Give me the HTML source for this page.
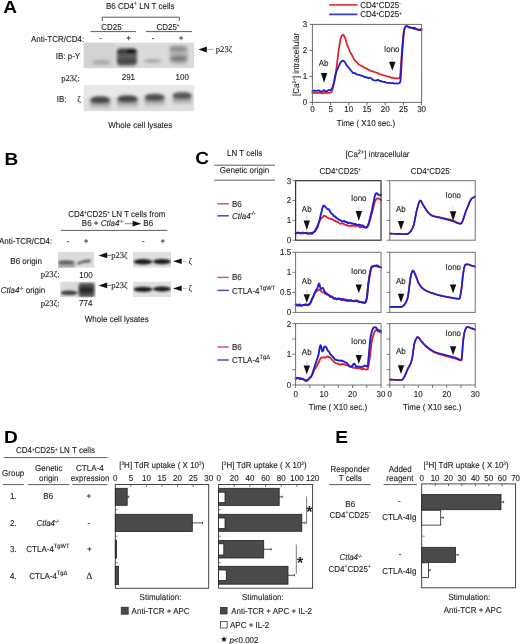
<!DOCTYPE html><html><head><meta charset="utf-8"><style>html,body{margin:0;padding:0;background:#fff;} svg{will-change:transform;}svg{display:block;font-family:"Liberation Sans",sans-serif;} text{text-rendering:geometricPrecision;stroke:#1e1e1e;stroke-width:0.12px;paint-order:stroke;}</style></head><body>
<svg width="520" height="644" viewBox="0 0 520 644">
<defs><filter id="b1" x="-50%" y="-50%" width="200%" height="200%"><feGaussianBlur stdDeviation="1.2"/></filter><filter id="b2" x="-50%" y="-50%" width="200%" height="200%"><feGaussianBlur stdDeviation="2"/></filter><filter id="b2s" x="-50%" y="-50%" width="200%" height="200%"><feGaussianBlur stdDeviation="1.4"/></filter><linearGradient id="smear" x1="0" y1="0" x2="0" y2="1"><stop offset="0" stop-color="#777"/><stop offset="1" stop-color="#d8d8d8"/></linearGradient><filter id="b3" x="-50%" y="-50%" width="200%" height="200%"><feGaussianBlur stdDeviation="0.8"/></filter><clipPath id="cA1"><rect x="83.5" y="42.5" width="110.7" height="25.7"/></clipPath><clipPath id="cA2"><rect x="83.5" y="84.8" width="110.7" height="26.5"/></clipPath><clipPath id="cB1"><rect x="58" y="251.8" width="36.4" height="16"/></clipPath><clipPath id="cB2"><rect x="60.2" y="281.5" width="35.6" height="16"/></clipPath><clipPath id="cB3"><rect x="133" y="251.8" width="38" height="16"/></clipPath><clipPath id="cB4"><rect x="133" y="281.5" width="38" height="15.8"/></clipPath></defs>
<rect width="520" height="644" fill="#fff"/>
<text transform="translate(3.3,12.7) scale(1.09,1)" font-size="17.5" font-weight="bold" fill="#000" style="stroke:none">A</text>
<text transform="translate(106.00,8.60) scale(0.93,1)" font-size="8.6" fill="#1e1e1e" >B6 CD4<tspan font-size="5.5" dy="-3.4">+</tspan><tspan font-size="8.6" dy="3.4"> LN T cells</tspan></text>
<path d="M102.3,21 V17.2 H179.4 V21" fill="none" stroke="#333" stroke-width="0.8"/>
<text transform="translate(101.30,29.80) scale(0.93,1)" font-size="8.6" fill="#1e1e1e" >CD25<tspan font-size="4.6" dy="-2.7">-</tspan></text>
<text transform="translate(156.40,29.80) scale(0.93,1)" font-size="8.6" fill="#1e1e1e" >CD25<tspan font-size="4.6" dy="-2.7">+</tspan></text>
<line x1="90.60" y1="31.60" x2="135.80" y2="31.60" stroke="#333" stroke-width="0.8"/>
<line x1="146.00" y1="31.60" x2="192.00" y2="31.60" stroke="#333" stroke-width="0.8"/>
<text transform="translate(84.20,41.60) scale(0.93,1)" font-size="8.6" text-anchor="end" fill="#1e1e1e" >Anti-TCR/CD4:</text>
<text transform="translate(100.50,41.40) scale(0.93,1)" font-size="8.6" text-anchor="middle" fill="#1e1e1e" >-</text>
<text transform="translate(128.60,41.40) scale(0.93,1)" font-size="8.6" text-anchor="middle" fill="#1e1e1e" >+</text>
<text transform="translate(153.00,41.40) scale(0.93,1)" font-size="8.6" text-anchor="middle" fill="#1e1e1e" >-</text>
<text transform="translate(181.20,41.40) scale(0.93,1)" font-size="8.6" text-anchor="middle" fill="#1e1e1e" >+</text>
<text transform="translate(80.20,58.80) scale(0.93,1)" font-size="8.6" text-anchor="end" fill="#1e1e1e" >IB: p-Y</text>
<text x="80.00" y="80.80" font-size="8.6" font-family="Liberation Serif" text-anchor="end" fill="#1e1e1e" >p23&#950;:</text>
<text transform="translate(128.40,79.90) scale(0.93,1)" font-size="8.6" text-anchor="middle" fill="#1e1e1e" >291</text>
<text transform="translate(182.20,80.00) scale(0.93,1)" font-size="8.6" text-anchor="middle" fill="#1e1e1e" >100</text>
<text transform="translate(56.80,101.60) scale(0.93,1)" font-size="8.6" fill="#1e1e1e" >IB:</text>
<text x="77.30" y="101.60" font-size="8.6" font-family="Liberation Serif" fill="#1e1e1e" >&#950;</text>
<g clip-path="url(#cA1)">
<rect x="83.50" y="42.50" width="110.70" height="25.70" fill="#dadada" stroke="none" stroke-width="0.8" />
<g filter="url(#b2s)">
<rect x="83.5" y="42.5" width="30" height="25.7" fill="#d2d2d2"/>
<ellipse cx="101.5" cy="62.4" rx="9.5" ry="2.4" fill="#a6a6a6"/>
<rect x="116.8" y="48.2" width="20.2" height="17.5" rx="4" fill="#5e5e5e"/>
<ellipse cx="121.3" cy="51.6" rx="4.6" ry="2.3" fill="#3a3a3a"/>
<ellipse cx="130.8" cy="51.3" rx="6.0" ry="2.3" fill="#000"/>
<ellipse cx="126.8" cy="61.0" rx="10.2" ry="3.0" fill="#4a4a4a"/>
<ellipse cx="152.7" cy="61.0" rx="9" ry="2.2" fill="#ababab"/>
<rect x="169.5" y="45.5" width="18.5" height="18.5" rx="4" fill="#b0b0b0"/>
<ellipse cx="177.8" cy="48.9" rx="8.5" ry="2.6" fill="#8e8e8e"/>
<ellipse cx="178.6" cy="58.6" rx="8.5" ry="2.8" fill="#7a7a7a"/>
</g></g>
<g clip-path="url(#cA2)">
<rect x="83.50" y="84.80" width="110.70" height="26.50" fill="#e8e8e8" stroke="none" stroke-width="0.8" />
<g filter="url(#b2s)">
<rect x="83.5" y="97" width="110.7" height="15" fill="#dedede"/>
<rect x="90.1" y="99.9" width="20.2" height="9.5" rx="3" fill="url(#smear)"/>
<ellipse cx="100.2" cy="99.9" rx="10.6" ry="3.6" fill="#444"/>
<rect x="117.2" y="98.9" width="20.6" height="9.5" rx="3" fill="url(#smear)"/>
<ellipse cx="127.5" cy="98.9" rx="10.8" ry="3.6" fill="#464646"/>
<rect x="144.6" y="97.4" width="20.0" height="9.5" rx="3" fill="url(#smear)"/>
<ellipse cx="154.6" cy="97.4" rx="10.5" ry="3.6" fill="#505050"/>
<rect x="172.7" y="95.6" width="19.0" height="9.5" rx="3" fill="url(#smear)"/>
<ellipse cx="182.2" cy="95.6" rx="10.0" ry="3.6" fill="#585858"/>
</g></g>
<path d="M198.50,49.40 L206.80,46.40 L206.80,52.40 Z" fill="#111"/>
<line x1="206.80" y1="49.40" x2="213.60" y2="49.40" stroke="#666" stroke-width="0.6"/>
<text x="215.80" y="52.20" font-size="8.6" font-family="Liberation Serif" fill="#1e1e1e" >p23&#950;</text>
<text transform="translate(108.30,128.00) scale(0.93,1)" font-size="8.6" fill="#1e1e1e" >Whole cell lysates</text>
<line x1="329.20" y1="4.90" x2="357.50" y2="4.90" stroke="#e2404e" stroke-width="1.8"/>
<line x1="329.20" y1="14.40" x2="357.50" y2="14.40" stroke="#3c3cc6" stroke-width="1.8"/>
<text transform="translate(360.30,7.80) scale(0.93,1)" font-size="8.6" fill="#1e1e1e" >CD4<tspan font-size="4.6" dy="-2.7">+</tspan><tspan font-size="8.6" dy="2.7">CD25</tspan><tspan font-size="4.6" dy="-2.7">-</tspan></text>
<text transform="translate(360.30,17.40) scale(0.93,1)" font-size="8.6" fill="#1e1e1e" >CD4<tspan font-size="4.6" dy="-2.7">+</tspan><tspan font-size="8.6" dy="2.7">CD25</tspan><tspan font-size="4.6" dy="-2.7">+</tspan></text>
<path d="M312.40,92.96 L313.13,92.93 L313.86,92.90 L314.58,92.88 L315.31,92.86 L316.04,92.84 L316.77,92.79 L317.50,92.78 L318.22,92.83 L318.95,92.89 L319.68,92.84 L320.41,92.79 L321.14,92.96 L321.86,93.21 L322.59,93.27 L323.32,93.15 L324.05,93.03 L324.78,92.90 L325.50,92.76 L326.23,92.84 L326.96,92.93 L327.69,92.89 L328.42,92.82 L329.14,92.90 L329.87,92.97 L330.60,92.69 L331.33,91.97 L332.06,90.88 L332.78,88.56 L333.51,85.30 L334.24,81.70 L334.97,77.83 L335.70,73.39 L336.42,68.56 L337.15,62.84 L337.88,56.50 L338.61,50.60 L339.34,45.78 L340.06,41.39 L340.79,38.04 L341.52,36.33 L342.25,35.15 L342.98,34.71 L343.70,35.27 L344.43,36.53 L345.16,38.03 L345.89,40.40 L346.62,43.10 L347.34,45.28 L348.07,46.98 L348.80,48.73 L349.53,50.52 L350.26,52.10 L350.98,53.42 L351.71,54.71 L352.44,56.23 L353.17,57.68 L353.90,58.98 L354.62,60.14 L355.35,61.05 L356.08,61.68 L356.81,62.26 L357.54,63.11 L358.26,63.91 L358.99,64.50 L359.72,65.04 L360.45,65.40 L361.18,65.68 L361.90,66.05 L362.63,66.52 L363.36,67.00 L364.09,67.56 L364.82,68.10 L365.54,68.28 L366.27,68.45 L367.00,68.84 L367.73,69.30 L368.46,69.67 L369.18,69.96 L369.91,70.28 L370.64,70.71 L371.37,71.14 L372.10,71.23 L372.82,71.30 L373.55,71.58 L374.28,71.91 L375.01,72.17 L375.74,72.35 L376.46,72.54 L377.19,72.80 L377.92,73.06 L378.65,73.46 L379.38,73.85 L380.10,74.10 L380.83,74.30 L381.56,74.53 L382.29,74.80 L383.02,75.05 L383.74,75.27 L384.47,75.49 L385.20,75.74 L385.93,76.00 L386.66,76.19 L387.38,76.36 L388.11,76.51 L388.84,76.66 L389.57,76.86 L390.30,77.24 L391.02,77.62 L391.75,77.63 L392.48,77.63 L393.21,77.82 L393.94,78.07 L394.66,78.25 L395.39,78.38 L396.12,78.44 L396.85,78.37 L397.58,78.27 L398.30,78.37 L399.03,78.25 L399.76,77.75 L400.49,72.15 L401.22,60.91 L401.94,50.45 L402.67,42.03 L403.40,34.23 L404.13,29.47 L404.86,27.52 L405.58,26.38 L406.31,26.07 L407.04,26.02 L407.77,26.36 L408.50,27.04 L409.22,27.62 L409.95,27.81 L410.68,27.88 L411.41,28.05 L412.14,28.21 L412.86,28.54 L413.59,28.92 L414.32,29.07 L415.05,28.99 L415.78,28.99 L416.50,29.23 L417.23,29.47 L417.96,29.52 L418.69,29.58 L419.42,29.80 L420.14,30.09 L420.87,30.29 L421.60,30.41" fill="none" stroke="#e0242e" stroke-width="1.8" stroke-linejoin="round" stroke-linecap="round"/>
<path d="M312.40,91.18 L313.13,90.93 L313.86,90.68 L314.58,90.73 L315.31,90.87 L316.04,90.84 L316.77,90.65 L317.50,90.51 L318.22,90.49 L318.95,90.47 L319.68,90.92 L320.41,91.38 L321.14,91.52 L321.86,91.56 L322.59,91.25 L323.32,90.59 L324.05,90.20 L324.78,90.67 L325.50,91.14 L326.23,91.16 L326.96,91.18 L327.69,90.72 L328.42,90.11 L329.14,90.01 L329.87,90.31 L330.60,90.21 L331.33,89.39 L332.06,88.26 L332.78,86.51 L333.51,83.98 L334.24,81.02 L334.97,77.56 L335.70,74.01 L336.42,71.54 L337.15,69.90 L337.88,68.04 L338.61,66.37 L339.34,64.92 L340.06,63.35 L340.79,62.17 L341.52,61.35 L342.25,60.76 L342.98,60.56 L343.70,60.93 L344.43,61.73 L345.16,62.57 L345.89,63.90 L346.62,65.41 L347.34,66.22 L348.07,66.79 L348.80,67.65 L349.53,68.72 L350.26,69.63 L350.98,70.55 L351.71,71.44 L352.44,72.28 L353.17,73.08 L353.90,73.16 L354.62,72.98 L355.35,73.24 L356.08,73.95 L356.81,74.49 L357.54,74.61 L358.26,74.71 L358.99,74.86 L359.72,74.99 L360.45,75.31 L361.18,75.68 L361.90,75.88 L362.63,75.93 L363.36,76.12 L364.09,76.75 L364.82,77.37 L365.54,77.23 L366.27,77.10 L367.00,77.43 L367.73,77.92 L368.46,78.06 L369.18,77.86 L369.91,77.77 L370.64,78.01 L371.37,78.24 L372.10,79.06 L372.82,79.88 L373.55,80.20 L374.28,80.34 L375.01,80.47 L375.74,80.58 L376.46,80.55 L377.19,80.11 L377.92,79.67 L378.65,80.26 L379.38,80.85 L380.10,81.00 L380.83,81.00 L381.56,81.21 L382.29,81.62 L383.02,81.92 L383.74,81.90 L384.47,81.89 L385.20,82.15 L385.93,82.41 L386.66,82.62 L387.38,82.81 L388.11,82.90 L388.84,82.87 L389.57,82.89 L390.30,83.05 L391.02,83.20 L391.75,83.08 L392.48,82.96 L393.21,83.15 L393.94,83.44 L394.66,83.53 L395.39,83.41 L396.12,83.34 L396.85,83.45 L397.58,83.54 L398.30,83.44 L399.03,83.20 L399.76,82.99 L400.49,80.92 L401.22,69.77 L401.94,56.06 L402.67,46.50 L403.40,37.38 L404.13,30.51 L404.86,28.02 L405.58,26.67 L406.31,26.19 L407.04,26.26 L407.77,26.48 L408.50,26.85 L409.22,27.13 L409.95,27.13 L410.68,27.13 L411.41,27.66 L412.14,28.20 L412.86,28.07 L413.59,27.73 L414.32,27.75 L415.05,28.13 L415.78,28.53 L416.50,28.95 L417.23,29.38 L417.96,29.75 L418.69,30.13 L419.42,29.88 L420.14,29.43 L420.87,29.24 L421.60,29.31" fill="none" stroke="#1f1fd0" stroke-width="1.8" stroke-linejoin="round" stroke-linecap="round"/>
<rect x="312.40" y="24.40" width="109.20" height="78.00" fill="none" stroke="#6a6a6a" stroke-width="1.0" />
<line x1="309.60" y1="102.40" x2="312.40" y2="102.40" stroke="#555" stroke-width="0.9"/>
<text transform="translate(307.20,105.30) scale(0.93,1)" font-size="8.6" text-anchor="end" fill="#1e1e1e" >0</text>
<line x1="309.60" y1="76.40" x2="312.40" y2="76.40" stroke="#555" stroke-width="0.9"/>
<text transform="translate(307.20,79.30) scale(0.93,1)" font-size="8.6" text-anchor="end" fill="#1e1e1e" >1</text>
<line x1="309.60" y1="50.40" x2="312.40" y2="50.40" stroke="#555" stroke-width="0.9"/>
<text transform="translate(307.20,53.30) scale(0.93,1)" font-size="8.6" text-anchor="end" fill="#1e1e1e" >2</text>
<line x1="309.60" y1="24.40" x2="312.40" y2="24.40" stroke="#555" stroke-width="0.9"/>
<text transform="translate(307.20,27.30) scale(0.93,1)" font-size="8.6" text-anchor="end" fill="#1e1e1e" >3</text>
<line x1="312.40" y1="102.40" x2="312.40" y2="105.20" stroke="#555" stroke-width="0.9"/>
<text transform="translate(312.40,112.20) scale(0.93,1)" font-size="8.6" text-anchor="middle" fill="#1e1e1e" >0</text>
<line x1="330.60" y1="102.40" x2="330.60" y2="105.20" stroke="#555" stroke-width="0.9"/>
<text transform="translate(330.60,112.20) scale(0.93,1)" font-size="8.6" text-anchor="middle" fill="#1e1e1e" >5</text>
<line x1="348.80" y1="102.40" x2="348.80" y2="105.20" stroke="#555" stroke-width="0.9"/>
<text transform="translate(348.80,112.20) scale(0.93,1)" font-size="8.6" text-anchor="middle" fill="#1e1e1e" >10</text>
<line x1="367.00" y1="102.40" x2="367.00" y2="105.20" stroke="#555" stroke-width="0.9"/>
<text transform="translate(367.00,112.20) scale(0.93,1)" font-size="8.6" text-anchor="middle" fill="#1e1e1e" >15</text>
<line x1="385.20" y1="102.40" x2="385.20" y2="105.20" stroke="#555" stroke-width="0.9"/>
<text transform="translate(385.20,112.20) scale(0.93,1)" font-size="8.6" text-anchor="middle" fill="#1e1e1e" >20</text>
<line x1="403.40" y1="102.40" x2="403.40" y2="105.20" stroke="#555" stroke-width="0.9"/>
<text transform="translate(403.40,112.20) scale(0.93,1)" font-size="8.6" text-anchor="middle" fill="#1e1e1e" >25</text>
<line x1="421.60" y1="102.40" x2="421.60" y2="105.20" stroke="#555" stroke-width="0.9"/>
<text transform="translate(421.60,112.20) scale(0.93,1)" font-size="8.6" text-anchor="middle" fill="#1e1e1e" >30</text>
<text transform="translate(336.80,126.20) scale(0.93,1)" font-size="8.6" fill="#1e1e1e" >Time ( X10 sec.)</text>
<text transform="translate(299.3,96) rotate(-90) scale(0.93,1)" font-size="8.6" fill="#1e1e1e">[Ca<tspan font-size="5" dy="-3.2">2+</tspan><tspan font-size="8.6" dy="3.2">] intracellular</tspan></text>
<text transform="translate(318.70,66.00) scale(0.93,1)" font-size="8.6" fill="#1e1e1e" >Ab</text>
<line x1="324.10" y1="68.50" x2="324.10" y2="73.00" stroke="#aaa" stroke-width="0.5"/>
<path d="M320.90,73.00 L327.30,73.00 L324.10,82.80 Z" fill="#111"/>
<text transform="translate(384.00,52.00) scale(0.93,1)" font-size="8.6" fill="#1e1e1e" >Iono</text>
<line x1="392.30" y1="57.30" x2="392.30" y2="61.80" stroke="#aaa" stroke-width="0.5"/>
<path d="M389.10,61.80 L395.50,61.80 L392.30,70.80 Z" fill="#111"/>
<text transform="translate(4.6,164.6) scale(1.09,1)" font-size="17.5" font-weight="bold" fill="#000" style="stroke:none">B</text>
<text transform="translate(68.20,217.10) scale(0.93,1)" font-size="8.6" fill="#1e1e1e" >CD4<tspan font-size="4.6" dy="-2.7">+</tspan><tspan font-size="8.6" dy="2.7">CD25</tspan><tspan font-size="4.6" dy="-2.7">+</tspan><tspan font-size="8.6" dy="2.7"> LN T cells from</tspan></text>
<text transform="translate(81.80,226.00) scale(0.93,1)" font-size="8.6" fill="#1e1e1e" >B6 + <tspan font-style="italic">Ctla4</tspan><tspan font-size="4.6" dy="-2.7">-/-</tspan></text>
<line x1="124.90" y1="223.70" x2="133.00" y2="223.70" stroke="#666" stroke-width="0.8"/>
<path d="M141.30,223.70 L132.60,220.80 L132.60,226.60 Z" fill="#111"/>
<text transform="translate(143.30,226.40) scale(0.93,1)" font-size="8.6" fill="#1e1e1e" >B6</text>
<line x1="60.80" y1="230.40" x2="167.20" y2="230.40" stroke="#333" stroke-width="0.8"/>
<text transform="translate(52.30,243.50) scale(0.93,1)" font-size="8.6" text-anchor="end" fill="#1e1e1e" >Anti-TCR/CD4:</text>
<text transform="translate(68.00,244.30) scale(0.93,1)" font-size="8.6" text-anchor="middle" fill="#1e1e1e" >-</text>
<text transform="translate(86.00,244.30) scale(0.93,1)" font-size="8.6" text-anchor="middle" fill="#1e1e1e" >+</text>
<text transform="translate(143.30,244.30) scale(0.93,1)" font-size="8.6" text-anchor="middle" fill="#1e1e1e" >-</text>
<text transform="translate(162.80,244.30) scale(0.93,1)" font-size="8.6" text-anchor="middle" fill="#1e1e1e" >+</text>
<text transform="translate(10.30,263.60) scale(0.93,1)" font-size="8.6" fill="#1e1e1e" >B6 origin</text>
<text x="59.60" y="277.20" font-size="8.6" font-family="Liberation Serif" text-anchor="end" fill="#1e1e1e" >p23&#950;:</text>
<text transform="translate(86.00,278.00) scale(0.93,1)" font-size="8.6" text-anchor="middle" fill="#1e1e1e" >100</text>
<text transform="translate(0.80,292.50) scale(0.93,1)" font-size="8.6" fill="#1e1e1e" ><tspan font-style="italic">Ctla4</tspan><tspan font-size="4.6" dy="-2.7">-/-</tspan><tspan font-size="8.6" dy="2.7"> origin</tspan></text>
<text x="59.60" y="306.40" font-size="8.6" font-family="Liberation Serif" text-anchor="end" fill="#1e1e1e" >p23&#950;:</text>
<text transform="translate(85.70,305.50) scale(0.93,1)" font-size="8.6" text-anchor="middle" fill="#1e1e1e" >774</text>
<text transform="translate(84.80,321.60) scale(0.93,1)" font-size="8.6" fill="#1e1e1e" >Whole cell lysates</text>
<g clip-path="url(#cB1)">
<rect x="58.00" y="251.80" width="36.40" height="16.00" fill="#dcdcdc" stroke="none" stroke-width="0.8" />
<g filter="url(#b3)">
<rect x="58" y="262" width="17" height="6" fill="#a8a8a8"/>
<ellipse cx="66.3" cy="262.4" rx="8.3" ry="2.2" fill="#5e5e5e"/>
<path d="M77,262.5 Q83,259.5 90.5,259.3 L90.5,262.6 Q83,262.6 77.5,264.8 Z" fill="#666"/>
</g></g>
<g clip-path="url(#cB2)">
<rect x="60.20" y="281.50" width="35.60" height="16.00" fill="#dadada" stroke="none" stroke-width="0.8" />
<g filter="url(#b3)">
<ellipse cx="69" cy="292.8" rx="8.5" ry="2.3" fill="#3c3c3c"/>
<rect x="78.5" y="283" width="16" height="14" rx="3" fill="#555"/>
<ellipse cx="86.5" cy="290" rx="7.5" ry="3.5" fill="#2a2a2a"/>
</g></g>
<g clip-path="url(#cB3)">
<rect x="133.00" y="251.80" width="38.00" height="16.00" fill="#e0e0e0" stroke="none" stroke-width="0.8" />
<g filter="url(#b3)">
<ellipse cx="143" cy="261.8" rx="9.5" ry="2.7" fill="#1c1c1c"/>
<ellipse cx="162" cy="261.6" rx="9" ry="2.7" fill="#1c1c1c"/>
</g></g>
<g clip-path="url(#cB4)">
<rect x="133.00" y="281.50" width="38.00" height="15.80" fill="#e0e0e0" stroke="none" stroke-width="0.8" />
<g filter="url(#b3)">
<ellipse cx="143" cy="289.3" rx="9.5" ry="2.6" fill="#1c1c1c"/>
<ellipse cx="162" cy="289.0" rx="9" ry="2.6" fill="#1c1c1c"/>
</g></g>
<path d="M98.50,255.40 L107.20,252.60 L107.20,258.20 Z" fill="#111"/>
<line x1="107.20" y1="255.40" x2="111.20" y2="255.40" stroke="#333" stroke-width="0.7"/>
<text x="111.20" y="258.00" font-size="8.6" font-family="Liberation Serif" fill="#1e1e1e" >p23&#950;</text>
<path d="M98.50,285.40 L107.20,282.60 L107.20,288.20 Z" fill="#111"/>
<line x1="107.20" y1="285.40" x2="111.20" y2="285.40" stroke="#333" stroke-width="0.7"/>
<text x="111.20" y="288.00" font-size="8.6" font-family="Liberation Serif" fill="#1e1e1e" >p23&#950;</text>
<path d="M173.10,261.20 L181.70,258.40 L181.70,264.00 Z" fill="#111"/>
<line x1="183.00" y1="261.20" x2="186.40" y2="261.20" stroke="#777" stroke-width="0.6"/>
<text x="188.40" y="263.80" font-size="8.6" font-family="Liberation Serif" fill="#1e1e1e" >&#950;</text>
<path d="M173.10,288.40 L181.70,285.60 L181.70,291.20 Z" fill="#111"/>
<line x1="183.00" y1="288.40" x2="186.40" y2="288.40" stroke="#777" stroke-width="0.6"/>
<text x="188.40" y="291.00" font-size="8.6" font-family="Liberation Serif" fill="#1e1e1e" >&#950;</text>
<text transform="translate(195.3,164.2) scale(1.09,1)" font-size="17.5" font-weight="bold" fill="#000" style="stroke:none">C</text>
<text transform="translate(227.00,156.40) scale(0.93,1)" font-size="8.6" fill="#1e1e1e" >LN T cells</text>
<line x1="214.20" y1="165.20" x2="275.00" y2="165.20" stroke="#333" stroke-width="0.8"/>
<text transform="translate(219.80,173.40) scale(0.93,1)" font-size="8.6" fill="#1e1e1e" >Genetic origin</text>
<line x1="214.20" y1="180.20" x2="275.00" y2="180.20" stroke="#333" stroke-width="0.8"/>
<text transform="translate(345.40,157.20) scale(0.93,1)" font-size="8.6" fill="#1e1e1e" >[Ca<tspan font-size="6" dy="-3.3">2+</tspan><tspan font-size="8.6" dy="3.3">] intracellular</tspan></text>
<text transform="translate(319.40,173.80) scale(0.93,1)" font-size="8.6" fill="#1e1e1e" >CD4<tspan font-size="4.6" dy="-2.7">+</tspan><tspan font-size="8.6" dy="2.7">CD25</tspan><tspan font-size="4.6" dy="-2.7">+</tspan></text>
<text transform="translate(410.80,173.80) scale(0.93,1)" font-size="8.6" fill="#1e1e1e" >CD4<tspan font-size="4.6" dy="-2.7">+</tspan><tspan font-size="8.6" dy="2.7">CD25</tspan><tspan font-size="4.6" dy="-2.7">-</tspan></text>
<line x1="217.40" y1="203.80" x2="228.80" y2="203.80" stroke="#e4505e" stroke-width="1.5"/>
<text transform="translate(232.00,206.50) scale(0.93,1)" font-size="8.6" fill="#1e1e1e" >B6</text>
<line x1="217.40" y1="215.80" x2="228.80" y2="215.80" stroke="#4a4ab8" stroke-width="1.5"/>
<text transform="translate(232.00,218.90) scale(0.93,1)" font-size="8.6" fill="#1e1e1e" ><tspan font-style="italic">Ctla4</tspan><tspan font-size="5.5" dy="-3.6">-/-</tspan></text>
<line x1="217.40" y1="277.40" x2="228.80" y2="277.40" stroke="#e4505e" stroke-width="1.5"/>
<text transform="translate(232.00,280.10) scale(0.93,1)" font-size="8.6" fill="#1e1e1e" >B6</text>
<line x1="217.40" y1="290.40" x2="228.80" y2="290.40" stroke="#4a4ab8" stroke-width="1.5"/>
<text transform="translate(232.00,293.50) scale(0.93,1)" font-size="8.6" fill="#1e1e1e" >CTLA-4<tspan font-size="6.2" dy="-3.9">TgWT</tspan></text>
<line x1="217.40" y1="347.00" x2="228.80" y2="347.00" stroke="#e4505e" stroke-width="1.5"/>
<text transform="translate(232.00,349.70) scale(0.93,1)" font-size="8.6" fill="#1e1e1e" >B6</text>
<line x1="217.40" y1="360.00" x2="228.80" y2="360.00" stroke="#4a4ab8" stroke-width="1.5"/>
<text transform="translate(232.00,363.10) scale(0.93,1)" font-size="8.6" fill="#1e1e1e" >CTLA-4<tspan font-size="6.2" dy="-3.9">Tg&#916;</tspan></text>
<path d="M295.60,233.14 L296.17,233.06 L296.74,232.98 L297.31,232.77 L297.88,232.52 L298.45,232.55 L299.02,232.87 L299.59,233.11 L300.15,233.08 L300.72,233.05 L301.29,232.99 L301.86,232.94 L302.43,233.13 L303.00,233.42 L303.57,233.44 L304.14,233.21 L304.71,233.02 L305.28,232.94 L305.85,232.85 L306.42,232.74 L306.99,232.62 L307.56,232.96 L308.13,233.46 L308.69,233.63 L309.26,233.48 L309.83,233.41 L310.40,233.56 L310.97,233.71 L311.54,233.20 L312.11,232.70 L312.68,232.59 L313.25,232.37 L313.82,232.12 L314.39,231.89 L314.96,231.29 L315.53,229.82 L316.10,228.34 L316.67,227.40 L317.23,226.31 L317.80,225.26 L318.37,224.14 L318.94,222.67 L319.51,220.96 L320.08,219.89 L320.65,219.18 L321.22,218.62 L321.79,218.00 L322.36,217.54 L322.93,216.83 L323.50,216.04 L324.07,215.70 L324.64,215.87 L325.21,216.18 L325.77,216.46 L326.34,216.86 L326.91,217.25 L327.48,217.53 L328.05,217.93 L328.62,218.37 L329.19,218.57 L329.76,218.56 L330.33,218.63 L330.90,218.95 L331.47,219.27 L332.04,219.29 L332.61,219.31 L333.18,219.71 L333.75,220.22 L334.31,220.58 L334.88,220.77 L335.45,220.99 L336.02,221.35 L336.59,221.71 L337.16,221.87 L337.73,222.03 L338.30,222.38 L338.87,222.79 L339.44,223.19 L340.01,223.57 L340.58,223.79 L341.15,223.52 L341.72,223.23 L342.29,223.44 L342.85,223.63 L343.42,223.88 L343.99,224.14 L344.56,224.36 L345.13,224.55 L345.70,224.77 L346.27,225.11 L346.84,225.44 L347.41,225.55 L347.98,225.67 L348.55,225.71 L349.12,225.73 L349.69,225.85 L350.26,226.06 L350.83,226.12 L351.39,225.69 L351.96,225.26 L352.53,225.58 L353.10,225.90 L353.67,225.79 L354.24,225.53 L354.81,225.60 L355.38,225.99 L355.95,226.20 L356.52,225.86 L357.09,225.52 L357.66,225.67 L358.23,225.82 L358.80,226.35 L359.37,227.02 L359.93,227.32 L360.50,227.25 L361.07,227.09 L361.64,226.69 L362.21,226.31 L362.78,226.74 L363.35,227.17 L363.92,227.08 L364.49,226.81 L365.06,226.91 L365.63,227.36 L366.20,227.68 L366.77,227.54 L367.34,227.14 L367.91,225.93 L368.47,224.62 L369.04,223.20 L369.61,221.31 L370.18,219.30 L370.75,217.34 L371.32,215.32 L371.89,213.22 L372.46,210.90 L373.03,208.38 L373.60,206.26 L374.17,204.11 L374.74,202.08 L375.31,200.64 L375.88,199.76 L376.45,199.01 L377.01,198.65 L377.58,198.63 L378.15,198.49 L378.72,198.53 L379.29,198.81 L379.86,199.19 L380.43,199.54 L381.00,199.82" fill="none" stroke="#e0242e" stroke-width="1.9" stroke-linejoin="round" stroke-linecap="round"/>
<path d="M295.60,233.59 L296.17,233.22 L296.74,232.85 L297.31,232.79 L297.88,232.83 L298.45,232.90 L299.02,233.01 L299.59,233.14 L300.15,233.33 L300.72,233.51 L301.29,233.10 L301.86,232.70 L302.43,232.59 L303.00,232.58 L303.57,232.68 L304.14,232.88 L304.71,233.04 L305.28,233.05 L305.85,233.05 L306.42,233.24 L306.99,233.43 L307.56,233.60 L308.13,233.77 L308.69,233.72 L309.26,233.46 L309.83,233.23 L310.40,233.08 L310.97,232.92 L311.54,233.29 L312.11,233.65 L312.68,233.32 L313.25,232.51 L313.82,231.93 L314.39,231.63 L314.96,231.15 L315.53,230.35 L316.10,229.54 L316.67,228.75 L317.23,227.81 L317.80,226.13 L318.37,224.08 L318.94,222.19 L319.51,220.19 L320.08,217.82 L320.65,215.26 L321.22,212.93 L321.79,210.62 L322.36,208.26 L322.93,206.48 L323.50,205.61 L324.07,205.63 L324.64,206.06 L325.21,206.76 L325.77,207.40 L326.34,207.79 L326.91,208.50 L327.48,209.20 L328.05,209.30 L328.62,209.26 L329.19,209.81 L329.76,210.91 L330.33,211.97 L330.90,212.86 L331.47,213.74 L332.04,213.98 L332.61,214.17 L333.18,215.01 L333.75,216.01 L334.31,216.47 L334.88,216.39 L335.45,216.53 L336.02,217.32 L336.59,218.09 L337.16,218.44 L337.73,218.76 L338.30,219.22 L338.87,219.70 L339.44,220.02 L340.01,220.19 L340.58,220.39 L341.15,220.79 L341.72,221.16 L342.29,221.42 L342.85,221.67 L343.42,221.40 L343.99,220.96 L344.56,221.06 L345.13,221.69 L345.70,222.17 L346.27,222.05 L346.84,221.94 L347.41,222.61 L347.98,223.26 L348.55,223.16 L349.12,222.78 L349.69,222.68 L350.26,222.86 L350.83,223.04 L351.39,223.24 L351.96,223.44 L352.53,223.52 L353.10,223.60 L353.67,223.78 L354.24,223.98 L354.81,224.07 L355.38,224.04 L355.95,224.15 L356.52,224.66 L357.09,225.17 L357.66,225.02 L358.23,224.86 L358.80,224.72 L359.37,224.59 L359.93,224.81 L360.50,225.39 L361.07,225.76 L361.64,225.48 L362.21,225.26 L362.78,225.61 L363.35,225.97 L363.92,226.54 L364.49,227.15 L365.06,227.54 L365.63,227.68 L366.20,227.64 L366.77,227.14 L367.34,226.31 L367.91,225.36 L368.47,224.30 L369.04,222.51 L369.61,220.00 L370.18,217.50 L370.75,215.20 L371.32,212.82 L371.89,210.35 L372.46,207.54 L373.03,204.52 L373.60,201.94 L374.17,199.11 L374.74,196.46 L375.31,194.63 L375.88,193.76 L376.45,193.22 L377.01,193.29 L377.58,193.70 L378.15,194.30 L378.72,195.04 L379.29,195.36 L379.86,195.24 L380.43,194.99 L381.00,194.69" fill="none" stroke="#1f1fd0" stroke-width="1.9" stroke-linejoin="round" stroke-linecap="round"/>
<rect x="295.60" y="180.70" width="85.40" height="59.50" fill="none" stroke="#333" stroke-width="1.2" />
<line x1="292.40" y1="240.20" x2="295.60" y2="240.20" stroke="#555" stroke-width="0.8"/>
<line x1="292.40" y1="220.37" x2="295.60" y2="220.37" stroke="#555" stroke-width="0.8"/>
<line x1="292.40" y1="200.53" x2="295.60" y2="200.53" stroke="#555" stroke-width="0.8"/>
<line x1="292.40" y1="180.70" x2="295.60" y2="180.70" stroke="#555" stroke-width="0.8"/>
<text transform="translate(291.20,243.10) scale(0.93,1)" font-size="8.6" text-anchor="end" fill="#1e1e1e" >0</text>
<text transform="translate(291.20,223.27) scale(0.93,1)" font-size="8.6" text-anchor="end" fill="#1e1e1e" >1</text>
<text transform="translate(291.20,203.43) scale(0.93,1)" font-size="8.6" text-anchor="end" fill="#1e1e1e" >2</text>
<text transform="translate(291.20,183.60) scale(0.93,1)" font-size="8.6" text-anchor="end" fill="#1e1e1e" >3</text>
<path d="M389.80,233.66 L390.37,233.67 L390.94,233.68 L391.51,233.70 L392.08,233.71 L392.65,233.73 L393.22,233.75 L393.79,233.76 L394.35,233.78 L394.92,233.80 L395.49,233.82 L396.06,233.83 L396.63,233.85 L397.20,233.87 L397.77,233.89 L398.34,233.90 L398.91,233.92 L399.48,233.93 L400.05,233.95 L400.62,233.96 L401.19,233.98 L401.76,233.99 L402.33,234.00 L402.89,234.01 L403.46,234.02 L404.03,234.03 L404.60,234.04 L405.17,234.04 L405.74,234.05 L406.31,234.05 L406.88,234.05 L407.45,233.95 L408.02,233.67 L408.59,233.26 L409.16,232.78 L409.73,232.27 L410.30,231.68 L410.87,230.95 L411.43,230.08 L412.00,229.07 L412.57,227.92 L413.14,226.62 L413.71,225.08 L414.28,222.79 L414.85,219.94 L415.42,216.84 L415.99,213.80 L416.56,211.14 L417.13,209.03 L417.70,206.89 L418.27,204.79 L418.84,202.91 L419.41,201.46 L419.97,200.64 L420.54,200.62 L421.11,201.20 L421.68,202.17 L422.25,203.31 L422.82,204.42 L423.39,205.34 L423.96,206.26 L424.53,207.21 L425.10,208.16 L425.67,209.09 L426.24,209.97 L426.81,210.79 L427.38,211.52 L427.95,212.14 L428.51,212.75 L429.08,213.32 L429.65,213.86 L430.22,214.36 L430.79,214.79 L431.36,215.14 L431.93,215.41 L432.50,215.62 L433.07,215.80 L433.64,215.97 L434.21,216.13 L434.78,216.27 L435.35,216.40 L435.92,216.52 L436.49,216.63 L437.05,216.73 L437.62,216.83 L438.19,216.93 L438.76,217.03 L439.33,217.13 L439.90,217.23 L440.47,217.34 L441.04,217.46 L441.61,217.59 L442.18,217.72 L442.75,217.85 L443.32,217.98 L443.89,218.11 L444.46,218.24 L445.03,218.37 L445.59,218.49 L446.16,218.62 L446.73,218.75 L447.30,218.89 L447.87,219.02 L448.44,219.16 L449.01,219.30 L449.58,219.45 L450.15,219.60 L450.72,219.75 L451.29,219.92 L451.86,220.08 L452.43,220.26 L453.00,220.47 L453.57,220.72 L454.13,220.99 L454.70,221.28 L455.27,221.58 L455.84,221.88 L456.41,222.18 L456.98,222.47 L457.55,222.73 L458.12,222.98 L458.69,223.18 L459.26,223.35 L459.83,223.47 L460.40,223.53 L460.97,223.47 L461.54,222.96 L462.11,222.03 L462.67,220.76 L463.24,219.23 L463.81,217.52 L464.38,215.74 L464.95,213.95 L465.52,212.25 L466.09,210.73 L466.66,209.40 L467.23,208.03 L467.80,206.59 L468.37,205.14 L468.94,203.72 L469.51,202.37 L470.08,201.14 L470.65,200.06 L471.21,199.18 L471.78,198.55 L472.35,198.10 L472.92,197.74 L473.49,197.43 L474.06,197.15 L474.63,196.87 L475.20,196.57" fill="none" stroke="#e0242e" stroke-width="1.7" stroke-linejoin="round" stroke-linecap="round"/>
<path d="M389.80,233.66 L390.37,233.67 L390.94,233.68 L391.51,233.70 L392.08,233.71 L392.65,233.73 L393.22,233.75 L393.79,233.76 L394.35,233.78 L394.92,233.80 L395.49,233.82 L396.06,233.83 L396.63,233.85 L397.20,233.87 L397.77,233.89 L398.34,233.90 L398.91,233.92 L399.48,233.93 L400.05,233.95 L400.62,233.96 L401.19,233.98 L401.76,233.99 L402.33,234.00 L402.89,234.01 L403.46,234.02 L404.03,234.03 L404.60,234.04 L405.17,234.04 L405.74,234.05 L406.31,234.05 L406.88,234.05 L407.45,233.95 L408.02,233.67 L408.59,233.26 L409.16,232.78 L409.73,232.27 L410.30,231.68 L410.87,230.95 L411.43,230.08 L412.00,229.07 L412.57,227.92 L413.14,226.62 L413.71,225.08 L414.28,222.79 L414.85,219.94 L415.42,216.84 L415.99,213.80 L416.56,211.14 L417.13,209.03 L417.70,206.89 L418.27,204.79 L418.84,202.91 L419.41,201.46 L419.97,200.64 L420.54,200.62 L421.11,201.20 L421.68,202.17 L422.25,203.31 L422.82,204.42 L423.39,205.34 L423.96,206.25 L424.53,207.19 L425.10,208.14 L425.67,209.06 L426.24,209.95 L426.81,210.77 L427.38,211.51 L427.95,212.15 L428.51,212.78 L429.08,213.38 L429.65,213.95 L430.22,214.47 L430.79,214.92 L431.36,215.31 L431.93,215.61 L432.50,215.85 L433.07,216.06 L433.64,216.26 L434.21,216.44 L434.78,216.61 L435.35,216.77 L435.92,216.91 L436.49,217.04 L437.05,217.17 L437.62,217.29 L438.19,217.41 L438.76,217.53 L439.33,217.65 L439.90,217.77 L440.47,217.90 L441.04,218.04 L441.61,218.18 L442.18,218.33 L442.75,218.48 L443.32,218.63 L443.89,218.78 L444.46,218.92 L445.03,219.07 L445.59,219.21 L446.16,219.36 L446.73,219.50 L447.30,219.65 L447.87,219.79 L448.44,219.94 L449.01,220.09 L449.58,220.24 L450.15,220.40 L450.72,220.56 L451.29,220.72 L451.86,220.88 L452.43,221.05 L453.00,221.24 L453.57,221.46 L454.13,221.69 L454.70,221.93 L455.27,222.17 L455.84,222.42 L456.41,222.66 L456.98,222.89 L457.55,223.10 L458.12,223.30 L458.69,223.46 L459.26,223.59 L459.83,223.68 L460.40,223.73 L460.97,223.67 L461.54,223.15 L462.11,222.20 L462.67,220.91 L463.24,219.35 L463.81,217.62 L464.38,215.81 L464.95,214.00 L465.52,212.28 L466.09,210.73 L466.66,209.40 L467.23,208.02 L467.80,206.58 L468.37,205.13 L468.94,203.71 L469.51,202.37 L470.08,201.13 L470.65,200.06 L471.21,199.18 L471.78,198.55 L472.35,198.10 L472.92,197.74 L473.49,197.43 L474.06,197.15 L474.63,196.87 L475.20,196.57" fill="none" stroke="#1f1fd0" stroke-width="1.7" stroke-linejoin="round" stroke-linecap="round"/>
<rect x="389.80" y="180.70" width="85.40" height="59.50" fill="none" stroke="#707070" stroke-width="1.0" />
<line x1="386.60" y1="240.20" x2="389.80" y2="240.20" stroke="#555" stroke-width="0.8"/>
<line x1="386.60" y1="220.37" x2="389.80" y2="220.37" stroke="#555" stroke-width="0.8"/>
<line x1="386.60" y1="200.53" x2="389.80" y2="200.53" stroke="#555" stroke-width="0.8"/>
<line x1="386.60" y1="180.70" x2="389.80" y2="180.70" stroke="#555" stroke-width="0.8"/>
<text transform="translate(301.80,211.60) scale(0.93,1)" font-size="8.6" fill="#1e1e1e" >Ab</text>
<line x1="306.80" y1="216.10" x2="306.80" y2="220.60" stroke="#aaa" stroke-width="0.5"/>
<path d="M303.60,220.60 L310.00,220.60 L306.80,230.10 Z" fill="#111"/>
<text transform="translate(351.00,201.40) scale(0.93,1)" font-size="8.6" fill="#1e1e1e" >Iono</text>
<line x1="358.80" y1="206.50" x2="358.80" y2="211.00" stroke="#aaa" stroke-width="0.5"/>
<path d="M355.60,211.00 L362.00,211.00 L358.80,220.90 Z" fill="#111"/>
<text transform="translate(396.00,211.60) scale(0.93,1)" font-size="8.6" fill="#1e1e1e" >Ab</text>
<line x1="401.00" y1="216.50" x2="401.00" y2="221.00" stroke="#aaa" stroke-width="0.5"/>
<path d="M397.80,221.00 L404.20,221.00 L401.00,230.10 Z" fill="#111"/>
<text transform="translate(445.50,198.40) scale(0.93,1)" font-size="8.6" fill="#1e1e1e" >Iono</text>
<line x1="453.10" y1="206.80" x2="453.10" y2="211.30" stroke="#aaa" stroke-width="0.5"/>
<path d="M449.90,211.30 L456.30,211.30 L453.10,220.90 Z" fill="#111"/>
<path d="M295.60,305.03 L296.17,304.90 L296.74,304.77 L297.31,304.73 L297.88,304.72 L298.45,304.91 L299.02,305.28 L299.59,305.58 L300.15,305.68 L300.72,305.77 L301.29,305.51 L301.86,305.25 L302.43,305.24 L303.00,305.31 L303.57,305.16 L304.14,304.78 L304.71,304.51 L305.28,304.60 L305.85,304.68 L306.42,304.75 L306.99,304.81 L307.56,304.85 L308.13,304.88 L308.69,304.80 L309.26,304.29 L309.83,303.56 L310.40,302.91 L310.97,302.11 L311.54,300.68 L312.11,299.31 L312.68,298.27 L313.25,297.11 L313.82,295.51 L314.39,293.63 L314.96,292.28 L315.53,292.13 L316.10,292.13 L316.67,291.08 L317.23,290.14 L317.80,290.11 L318.37,290.36 L318.94,290.18 L319.51,289.61 L320.08,289.39 L320.65,290.12 L321.22,291.10 L321.79,291.82 L322.36,292.37 L322.93,292.37 L323.50,292.18 L324.07,292.43 L324.64,293.20 L325.21,293.90 L325.77,294.20 L326.34,294.55 L326.91,294.35 L327.48,294.16 L328.05,294.64 L328.62,295.32 L329.19,295.96 L329.76,296.55 L330.33,296.91 L330.90,296.56 L331.47,296.22 L332.04,296.53 L332.61,296.83 L333.18,297.54 L333.75,298.36 L334.31,298.75 L334.88,298.69 L335.45,298.70 L336.02,299.00 L336.59,299.27 L337.16,299.20 L337.73,299.12 L338.30,298.96 L338.87,298.79 L339.44,298.89 L340.01,299.27 L340.58,299.49 L341.15,299.18 L341.72,298.89 L342.29,299.43 L342.85,299.98 L343.42,300.12 L343.99,300.13 L344.56,299.95 L345.13,299.59 L345.70,299.41 L346.27,299.79 L346.84,300.18 L347.41,300.25 L347.98,300.31 L348.55,300.29 L349.12,300.23 L349.69,300.28 L350.26,300.43 L350.83,300.57 L351.39,300.70 L351.96,300.83 L352.53,301.14 L353.10,301.45 L353.67,301.21 L354.24,300.77 L354.81,300.50 L355.38,300.39 L355.95,300.33 L356.52,300.39 L357.09,300.46 L357.66,300.76 L358.23,301.06 L358.80,301.38 L359.37,301.71 L359.93,301.95 L360.50,302.08 L361.07,302.16 L361.64,302.06 L362.21,301.96 L362.78,302.09 L363.35,302.19 L363.92,302.56 L364.49,303.00 L365.06,303.05 L365.63,302.16 L366.20,300.65 L366.77,298.69 L367.34,294.26 L367.91,287.88 L368.47,283.00 L369.04,278.69 L369.61,274.84 L370.18,271.95 L370.75,269.69 L371.32,267.86 L371.89,267.14 L372.46,267.19 L373.03,266.40 L373.60,265.68 L374.17,265.65 L374.74,265.89 L375.31,266.02 L375.88,266.01 L376.45,266.10 L377.01,266.42 L377.58,266.75 L378.15,266.74 L378.72,266.74 L379.29,266.87 L379.86,267.04 L380.43,267.05 L381.00,266.89" fill="none" stroke="#e0242e" stroke-width="1.9" stroke-linejoin="round" stroke-linecap="round"/>
<path d="M295.60,304.25 L296.17,304.84 L296.74,305.42 L297.31,305.63 L297.88,305.71 L298.45,305.40 L299.02,304.71 L299.59,304.33 L300.15,304.91 L300.72,305.49 L301.29,305.54 L301.86,305.58 L302.43,305.31 L303.00,304.93 L303.57,304.85 L304.14,305.07 L304.71,305.14 L305.28,304.75 L305.85,304.36 L306.42,304.83 L306.99,305.30 L307.56,305.03 L308.13,304.51 L308.69,304.42 L309.26,304.44 L309.83,303.96 L310.40,302.74 L310.97,301.38 L311.54,299.93 L312.11,298.52 L312.68,297.50 L313.25,296.49 L313.82,295.23 L314.39,293.76 L314.96,292.37 L315.53,291.23 L316.10,290.05 L316.67,289.18 L317.23,288.37 L317.80,286.79 L318.37,284.80 L318.94,283.60 L319.51,284.11 L320.08,286.71 L320.65,288.46 L321.22,288.50 L321.79,288.26 L322.36,288.08 L322.93,287.95 L323.50,288.95 L324.07,290.53 L324.64,291.67 L325.21,292.43 L325.77,292.79 L326.34,293.08 L326.91,293.68 L327.48,294.23 L328.05,294.55 L328.62,294.78 L329.19,295.20 L329.76,295.82 L330.33,296.35 L330.90,296.59 L331.47,296.81 L332.04,297.18 L332.61,297.53 L333.18,298.00 L333.75,298.49 L334.31,298.57 L334.88,298.24 L335.45,298.11 L336.02,298.66 L336.59,299.19 L337.16,298.91 L337.73,298.62 L338.30,298.49 L338.87,298.40 L339.44,298.50 L340.01,298.77 L340.58,299.09 L341.15,299.53 L341.72,299.97 L342.29,299.57 L342.85,299.18 L343.42,299.23 L343.99,299.43 L344.56,299.76 L345.13,300.19 L345.70,300.57 L346.27,300.76 L346.84,300.94 L347.41,300.68 L347.98,300.41 L348.55,300.67 L349.12,301.10 L349.69,301.02 L350.26,300.45 L350.83,300.11 L351.39,300.47 L351.96,300.83 L352.53,300.89 L353.10,300.94 L353.67,301.06 L354.24,301.19 L354.81,301.21 L355.38,301.09 L355.95,300.98 L356.52,300.87 L357.09,300.76 L357.66,301.27 L358.23,301.78 L358.80,301.95 L359.37,302.02 L359.93,302.05 L360.50,302.04 L361.07,302.12 L361.64,302.46 L362.21,302.79 L362.78,302.69 L363.35,302.57 L363.92,302.62 L364.49,302.69 L365.06,302.64 L365.63,301.87 L366.20,300.39 L366.77,298.27 L367.34,293.74 L367.91,287.59 L368.47,282.92 L369.04,279.06 L369.61,275.74 L370.18,272.67 L370.75,269.55 L371.32,267.09 L371.89,266.50 L372.46,266.67 L373.03,266.39 L373.60,266.18 L374.17,266.08 L374.74,266.07 L375.31,265.91 L375.88,265.59 L376.45,265.38 L377.01,265.47 L377.58,265.58 L378.15,266.03 L378.72,266.49 L379.29,266.77 L379.86,266.99 L380.43,267.27 L381.00,267.61" fill="none" stroke="#1f1fd0" stroke-width="1.9" stroke-linejoin="round" stroke-linecap="round"/>
<rect x="295.60" y="252.30" width="85.40" height="60.10" fill="none" stroke="#707070" stroke-width="1.0" />
<line x1="292.40" y1="312.40" x2="295.60" y2="312.40" stroke="#555" stroke-width="0.8"/>
<line x1="292.40" y1="292.37" x2="295.60" y2="292.37" stroke="#555" stroke-width="0.8"/>
<line x1="292.40" y1="272.33" x2="295.60" y2="272.33" stroke="#555" stroke-width="0.8"/>
<line x1="292.40" y1="252.30" x2="295.60" y2="252.30" stroke="#555" stroke-width="0.8"/>
<text transform="translate(291.20,315.30) scale(0.93,1)" font-size="8.6" text-anchor="end" fill="#1e1e1e" >0</text>
<text transform="translate(291.20,295.27) scale(0.93,1)" font-size="8.6" text-anchor="end" fill="#1e1e1e" >0.5</text>
<text transform="translate(291.20,275.23) scale(0.93,1)" font-size="8.6" text-anchor="end" fill="#1e1e1e" >1</text>
<text transform="translate(291.20,255.20) scale(0.93,1)" font-size="8.6" text-anchor="end" fill="#1e1e1e" >1.5</text>
<path d="M389.80,306.79 L390.37,306.79 L390.94,306.79 L391.51,306.79 L392.08,306.79 L392.65,306.79 L393.22,306.79 L393.79,306.79 L394.35,306.79 L394.92,306.79 L395.49,306.79 L396.06,306.79 L396.63,306.79 L397.20,306.79 L397.77,306.79 L398.34,306.79 L398.91,306.79 L399.48,306.79 L400.05,306.79 L400.62,306.79 L401.19,306.79 L401.76,306.70 L402.33,306.44 L402.89,306.05 L403.46,305.54 L404.03,304.94 L404.60,304.28 L405.17,303.59 L405.74,302.76 L406.31,301.66 L406.88,300.27 L407.45,298.56 L408.02,296.25 L408.59,292.28 L409.16,287.52 L409.73,283.15 L410.30,279.13 L410.87,275.55 L411.43,273.41 L412.00,271.75 L412.57,270.62 L413.14,270.36 L413.71,270.94 L414.28,272.05 L414.85,273.42 L415.42,274.74 L415.99,276.08 L416.56,277.60 L417.13,279.18 L417.70,280.67 L418.27,281.95 L418.84,283.05 L419.41,284.08 L419.97,285.04 L420.54,285.88 L421.11,286.60 L421.68,287.20 L422.25,287.75 L422.82,288.26 L423.39,288.72 L423.96,289.15 L424.53,289.55 L425.10,289.91 L425.67,290.25 L426.24,290.56 L426.81,290.86 L427.38,291.13 L427.95,291.39 L428.51,291.63 L429.08,291.86 L429.65,292.08 L430.22,292.30 L430.79,292.50 L431.36,292.70 L431.93,292.89 L432.50,293.08 L433.07,293.27 L433.64,293.46 L434.21,293.65 L434.78,293.84 L435.35,294.02 L435.92,294.19 L436.49,294.37 L437.05,294.53 L437.62,294.70 L438.19,294.86 L438.76,295.01 L439.33,295.16 L439.90,295.30 L440.47,295.44 L441.04,295.57 L441.61,295.70 L442.18,295.83 L442.75,295.96 L443.32,296.08 L443.89,296.20 L444.46,296.31 L445.03,296.43 L445.59,296.54 L446.16,296.65 L446.73,296.76 L447.30,296.87 L447.87,296.97 L448.44,297.07 L449.01,297.17 L449.58,297.28 L450.15,297.37 L450.72,297.48 L451.29,297.59 L451.86,297.70 L452.43,297.82 L453.00,297.93 L453.57,298.05 L454.13,298.16 L454.70,298.27 L455.27,298.38 L455.84,298.47 L456.41,298.56 L456.98,298.63 L457.55,298.69 L458.12,298.74 L458.69,298.77 L459.26,298.78 L459.83,297.77 L460.40,295.26 L460.97,292.02 L461.54,288.42 L462.11,283.19 L462.67,277.54 L463.24,273.13 L463.81,269.86 L464.38,266.95 L464.95,265.07 L465.52,264.62 L466.09,264.46 L466.66,264.35 L467.23,264.32 L467.80,264.36 L468.37,264.46 L468.94,264.61 L469.51,264.80 L470.08,265.03 L470.65,265.26 L471.21,265.50 L471.78,265.73 L472.35,265.94 L472.92,266.11 L473.49,266.24 L474.06,266.31 L474.63,266.32 L475.20,266.32" fill="none" stroke="#e0242e" stroke-width="1.7" stroke-linejoin="round" stroke-linecap="round"/>
<path d="M389.80,306.79 L390.37,306.79 L390.94,306.79 L391.51,306.79 L392.08,306.79 L392.65,306.79 L393.22,306.79 L393.79,306.79 L394.35,306.79 L394.92,306.79 L395.49,306.79 L396.06,306.79 L396.63,306.79 L397.20,306.79 L397.77,306.79 L398.34,306.79 L398.91,306.79 L399.48,306.79 L400.05,306.79 L400.62,306.79 L401.19,306.79 L401.76,306.70 L402.33,306.44 L402.89,306.05 L403.46,305.54 L404.03,304.94 L404.60,304.28 L405.17,303.59 L405.74,302.76 L406.31,301.66 L406.88,300.27 L407.45,298.56 L408.02,296.25 L408.59,292.28 L409.16,287.52 L409.73,283.15 L410.30,279.10 L410.87,275.50 L411.43,273.49 L412.00,271.99 L412.57,270.99 L413.14,270.76 L413.71,271.34 L414.28,272.46 L414.85,273.82 L415.42,275.14 L415.99,276.48 L416.56,278.00 L417.13,279.58 L417.70,281.07 L418.27,282.35 L418.84,283.45 L419.41,284.50 L419.97,285.45 L420.54,286.30 L421.11,287.01 L421.68,287.58 L422.25,288.11 L422.82,288.59 L423.39,289.02 L423.96,289.43 L424.53,289.80 L425.10,290.14 L425.67,290.46 L426.24,290.76 L426.81,291.05 L427.38,291.32 L427.95,291.58 L428.51,291.82 L429.08,292.05 L429.65,292.28 L430.22,292.49 L430.79,292.69 L431.36,292.89 L431.93,293.09 L432.50,293.28 L433.07,293.47 L433.64,293.66 L434.21,293.85 L434.78,294.04 L435.35,294.22 L435.92,294.39 L436.49,294.57 L437.05,294.73 L437.62,294.90 L438.19,295.06 L438.76,295.21 L439.33,295.36 L439.90,295.50 L440.47,295.64 L441.04,295.78 L441.61,295.91 L442.18,296.04 L442.75,296.16 L443.32,296.29 L443.89,296.41 L444.46,296.53 L445.03,296.65 L445.59,296.76 L446.16,296.87 L446.73,296.98 L447.30,297.09 L447.87,297.19 L448.44,297.29 L449.01,297.39 L449.58,297.48 L450.15,297.58 L450.72,297.67 L451.29,297.77 L451.86,297.87 L452.43,297.97 L453.00,298.07 L453.57,298.17 L454.13,298.26 L454.70,298.36 L455.27,298.44 L455.84,298.52 L456.41,298.60 L456.98,298.66 L457.55,298.71 L458.12,298.75 L458.69,298.77 L459.26,298.78 L459.83,297.77 L460.40,295.26 L460.97,292.02 L461.54,288.42 L462.11,283.19 L462.67,277.54 L463.24,273.13 L463.81,269.86 L464.38,266.95 L464.95,265.07 L465.52,264.62 L466.09,264.46 L466.66,264.35 L467.23,264.32 L467.80,264.36 L468.37,264.46 L468.94,264.61 L469.51,264.80 L470.08,265.03 L470.65,265.26 L471.21,265.50 L471.78,265.73 L472.35,265.94 L472.92,266.11 L473.49,266.24 L474.06,266.31 L474.63,266.32 L475.20,266.32" fill="none" stroke="#1f1fd0" stroke-width="1.7" stroke-linejoin="round" stroke-linecap="round"/>
<rect x="389.80" y="252.30" width="85.40" height="60.10" fill="none" stroke="#707070" stroke-width="1.0" />
<line x1="386.60" y1="312.40" x2="389.80" y2="312.40" stroke="#555" stroke-width="0.8"/>
<line x1="386.60" y1="292.37" x2="389.80" y2="292.37" stroke="#555" stroke-width="0.8"/>
<line x1="386.60" y1="272.33" x2="389.80" y2="272.33" stroke="#555" stroke-width="0.8"/>
<line x1="386.60" y1="252.30" x2="389.80" y2="252.30" stroke="#555" stroke-width="0.8"/>
<text transform="translate(301.80,283.60) scale(0.93,1)" font-size="8.6" fill="#1e1e1e" >Ab</text>
<line x1="306.80" y1="289.70" x2="306.80" y2="294.20" stroke="#aaa" stroke-width="0.5"/>
<path d="M303.60,294.20 L310.00,294.20 L306.80,303.00 Z" fill="#111"/>
<text transform="translate(351.00,273.50) scale(0.93,1)" font-size="8.6" fill="#1e1e1e" >Iono</text>
<line x1="358.80" y1="280.00" x2="358.80" y2="284.50" stroke="#aaa" stroke-width="0.5"/>
<path d="M355.60,284.50 L362.00,284.50 L358.80,293.30 Z" fill="#111"/>
<text transform="translate(396.00,283.60) scale(0.93,1)" font-size="8.6" fill="#1e1e1e" >Ab</text>
<line x1="401.00" y1="289.30" x2="401.00" y2="293.80" stroke="#aaa" stroke-width="0.5"/>
<path d="M397.80,293.80 L404.20,293.80 L401.00,302.80 Z" fill="#111"/>
<text transform="translate(445.50,269.60) scale(0.93,1)" font-size="8.6" fill="#1e1e1e" >Iono</text>
<line x1="453.10" y1="279.90" x2="453.10" y2="284.40" stroke="#aaa" stroke-width="0.5"/>
<path d="M449.90,284.40 L456.30,284.40 L453.10,293.30 Z" fill="#111"/>
<path d="M295.60,379.25 L296.17,378.81 L296.74,378.35 L297.31,378.15 L297.88,378.10 L298.45,378.04 L299.02,377.94 L299.59,378.00 L300.15,378.52 L300.72,379.05 L301.29,379.07 L301.86,379.11 L302.43,379.22 L303.00,379.36 L303.57,379.49 L304.14,379.77 L304.71,380.09 L305.28,380.15 L305.85,380.06 L306.42,380.51 L306.99,380.74 L307.56,380.24 L308.13,379.43 L308.69,378.80 L309.26,378.40 L309.83,377.93 L310.40,377.20 L310.97,376.36 L311.54,375.39 L312.11,374.39 L312.68,373.19 L313.25,371.87 L313.82,370.73 L314.39,369.81 L314.96,368.97 L315.53,368.31 L316.10,367.60 L316.67,366.27 L317.23,364.97 L317.80,363.95 L318.37,363.12 L318.94,362.00 L319.51,360.52 L320.08,359.21 L320.65,358.45 L321.22,357.87 L321.79,357.53 L322.36,357.48 L322.93,357.47 L323.50,357.46 L324.07,357.48 L324.64,357.54 L325.21,357.55 L325.77,357.40 L326.34,357.06 L326.91,356.75 L327.48,356.44 L328.05,356.57 L328.62,357.08 L329.19,357.35 L329.76,357.32 L330.33,357.48 L330.90,358.24 L331.47,359.14 L332.04,359.67 L332.61,360.20 L333.18,360.92 L333.75,361.60 L334.31,362.08 L334.88,362.47 L335.45,362.81 L336.02,363.08 L336.59,363.33 L337.16,363.47 L337.73,363.61 L338.30,363.84 L338.87,364.09 L339.44,364.36 L340.01,364.66 L340.58,364.78 L341.15,364.41 L341.72,364.03 L342.29,364.17 L342.85,364.30 L343.42,364.31 L343.99,364.27 L344.56,364.40 L345.13,364.71 L345.70,364.98 L346.27,365.17 L346.84,365.36 L347.41,365.32 L347.98,365.29 L348.55,365.71 L349.12,366.30 L349.69,366.48 L350.26,366.25 L350.83,366.16 L351.39,366.51 L351.96,366.85 L352.53,367.22 L353.10,367.58 L353.67,367.78 L354.24,367.91 L354.81,367.93 L355.38,367.82 L355.95,367.80 L356.52,368.08 L357.09,368.37 L357.66,368.31 L358.23,368.25 L358.80,368.22 L359.37,368.20 L359.93,368.30 L360.50,368.53 L361.07,368.77 L361.64,369.04 L362.21,369.30 L362.78,369.10 L363.35,368.90 L363.92,369.03 L364.49,369.26 L365.06,369.39 L365.63,369.42 L366.20,369.45 L366.77,369.50 L367.34,369.54 L367.91,368.69 L368.47,365.85 L369.04,362.20 L369.61,358.58 L370.18,354.29 L370.75,349.10 L371.32,344.44 L371.89,340.93 L372.46,337.80 L373.03,335.85 L373.60,334.55 L374.17,332.99 L374.74,331.55 L375.31,330.62 L375.88,330.17 L376.45,330.00 L377.01,330.51 L377.58,331.10 L378.15,331.17 L378.72,331.47 L379.29,331.61 L379.86,331.73 L380.43,332.08 L381.00,332.58" fill="none" stroke="#e0242e" stroke-width="1.9" stroke-linejoin="round" stroke-linecap="round"/>
<path d="M295.60,378.16 L296.17,378.01 L296.74,377.84 L297.31,377.75 L297.88,377.74 L298.45,378.06 L299.02,378.66 L299.59,379.04 L300.15,378.71 L300.72,378.38 L301.29,378.56 L301.86,378.75 L302.43,378.80 L303.00,378.80 L303.57,379.04 L304.14,379.67 L304.71,380.32 L305.28,380.71 L305.85,380.95 L306.42,380.78 L306.99,380.38 L307.56,380.06 L308.13,379.71 L308.69,379.11 L309.26,378.30 L309.83,377.63 L310.40,377.31 L310.97,376.89 L311.54,376.00 L312.11,374.94 L312.68,373.24 L313.25,371.05 L313.82,368.97 L314.39,367.18 L314.96,365.46 L315.53,363.75 L316.10,362.14 L316.67,360.46 L317.23,358.70 L317.80,357.09 L318.37,355.32 L318.94,352.36 L319.51,348.64 L320.08,345.82 L320.65,345.19 L321.22,346.80 L321.79,349.69 L322.36,351.57 L322.93,351.12 L323.50,349.26 L324.07,347.30 L324.64,346.41 L325.21,346.57 L325.77,346.86 L326.34,347.39 L326.91,348.76 L327.48,350.16 L328.05,350.96 L328.62,351.43 L329.19,352.14 L329.76,353.16 L330.33,354.08 L330.90,354.66 L331.47,355.23 L332.04,355.84 L332.61,356.42 L333.18,357.17 L333.75,357.94 L334.31,358.59 L334.88,359.21 L335.45,359.71 L336.02,359.85 L336.59,359.96 L337.16,360.12 L337.73,360.20 L338.30,360.40 L338.87,360.55 L339.44,360.65 L340.01,360.75 L340.58,360.80 L341.15,360.66 L341.72,360.51 L342.29,360.85 L342.85,361.20 L343.42,361.42 L343.99,361.67 L344.56,361.95 L345.13,362.25 L345.70,362.53 L346.27,362.64 L346.84,362.75 L347.41,363.65 L347.98,364.51 L348.55,365.10 L349.12,365.67 L349.69,366.21 L350.26,366.64 L350.83,366.91 L351.39,366.91 L351.96,366.43 L352.53,365.47 L353.10,364.52 L353.67,363.79 L354.24,363.65 L354.81,364.38 L355.38,365.39 L355.95,366.10 L356.52,366.49 L357.09,366.79 L357.66,366.69 L358.23,366.58 L358.80,366.56 L359.37,366.59 L359.93,366.71 L360.50,366.93 L361.07,367.10 L361.64,366.99 L362.21,366.74 L362.78,366.72 L363.35,366.43 L363.92,366.05 L364.49,365.73 L365.06,365.55 L365.63,365.70 L366.20,366.21 L366.77,366.44 L367.34,366.40 L367.91,364.69 L368.47,358.81 L369.04,352.36 L369.61,346.30 L370.18,340.35 L370.75,336.29 L371.32,333.72 L371.89,331.28 L372.46,329.67 L373.03,328.52 L373.60,327.54 L374.17,327.20 L374.74,327.33 L375.31,327.48 L375.88,327.53 L376.45,327.89 L377.01,328.89 L377.58,329.92 L378.15,330.01 L378.72,330.05 L379.29,330.69 L379.86,331.25 L380.43,331.20 L381.00,330.69" fill="none" stroke="#1f1fd0" stroke-width="1.9" stroke-linejoin="round" stroke-linecap="round"/>
<rect x="295.60" y="323.60" width="85.40" height="61.40" fill="none" stroke="#707070" stroke-width="1.0" />
<line x1="292.40" y1="385.00" x2="295.60" y2="385.00" stroke="#555" stroke-width="0.8"/>
<line x1="292.40" y1="354.30" x2="295.60" y2="354.30" stroke="#555" stroke-width="0.8"/>
<line x1="292.40" y1="323.60" x2="295.60" y2="323.60" stroke="#555" stroke-width="0.8"/>
<line x1="292.40" y1="369.65" x2="295.60" y2="369.65" stroke="#555" stroke-width="0.8"/>
<line x1="292.40" y1="338.95" x2="295.60" y2="338.95" stroke="#555" stroke-width="0.8"/>
<text transform="translate(291.20,387.90) scale(0.93,1)" font-size="8.6" text-anchor="end" fill="#1e1e1e" >0</text>
<text transform="translate(291.20,357.20) scale(0.93,1)" font-size="8.6" text-anchor="end" fill="#1e1e1e" >1</text>
<text transform="translate(291.20,326.50) scale(0.93,1)" font-size="8.6" text-anchor="end" fill="#1e1e1e" >2</text>
<line x1="295.60" y1="385.00" x2="295.60" y2="388.00" stroke="#555" stroke-width="0.8"/>
<line x1="309.83" y1="385.00" x2="309.83" y2="388.00" stroke="#555" stroke-width="0.8"/>
<line x1="324.07" y1="385.00" x2="324.07" y2="388.00" stroke="#555" stroke-width="0.8"/>
<line x1="338.30" y1="385.00" x2="338.30" y2="388.00" stroke="#555" stroke-width="0.8"/>
<line x1="352.53" y1="385.00" x2="352.53" y2="388.00" stroke="#555" stroke-width="0.8"/>
<line x1="366.77" y1="385.00" x2="366.77" y2="388.00" stroke="#555" stroke-width="0.8"/>
<line x1="381.00" y1="385.00" x2="381.00" y2="388.00" stroke="#555" stroke-width="0.8"/>
<text transform="translate(295.60,396.60) scale(0.93,1)" font-size="8.6" text-anchor="middle" fill="#1e1e1e" >0</text>
<text transform="translate(324.07,396.60) scale(0.93,1)" font-size="8.6" text-anchor="middle" fill="#1e1e1e" >10</text>
<text transform="translate(352.53,396.60) scale(0.93,1)" font-size="8.6" text-anchor="middle" fill="#1e1e1e" >20</text>
<text transform="translate(381.00,396.60) scale(0.93,1)" font-size="8.6" text-anchor="middle" fill="#1e1e1e" >30</text>
<text transform="translate(308.80,409.60) scale(0.93,1)" font-size="8.6" fill="#1e1e1e" >Time ( X10 sec.)</text>
<path d="M389.80,379.60 L390.37,379.62 L390.94,379.64 L391.51,379.66 L392.08,379.69 L392.65,379.71 L393.22,379.74 L393.79,379.76 L394.35,379.79 L394.92,379.81 L395.49,379.84 L396.06,379.86 L396.63,379.88 L397.20,379.91 L397.77,379.93 L398.34,379.94 L398.91,379.96 L399.48,379.97 L400.05,379.98 L400.62,379.99 L401.19,379.99 L401.76,379.98 L402.33,379.65 L402.89,379.01 L403.46,378.18 L404.03,377.32 L404.60,376.36 L405.17,375.16 L405.74,373.81 L406.31,372.39 L406.88,370.97 L407.45,369.65 L408.02,368.48 L408.59,367.41 L409.16,366.40 L409.73,365.35 L410.30,364.20 L410.87,362.89 L411.43,361.33 L412.00,359.28 L412.57,355.90 L413.14,351.71 L413.71,347.50 L414.28,344.01 L414.85,341.94 L415.42,340.46 L415.99,339.14 L416.56,338.08 L417.13,337.37 L417.70,337.11 L418.27,337.31 L418.84,337.85 L419.41,338.61 L419.97,339.48 L420.54,340.34 L421.11,341.10 L421.68,341.78 L422.25,342.47 L422.82,343.18 L423.39,343.87 L423.96,344.55 L424.53,345.18 L425.10,345.75 L425.67,346.26 L426.24,346.75 L426.81,347.23 L427.38,347.70 L427.95,348.16 L428.51,348.60 L429.08,349.03 L429.65,349.45 L430.22,349.85 L430.79,350.24 L431.36,350.61 L431.93,350.97 L432.50,351.31 L433.07,351.64 L433.64,351.95 L434.21,352.24 L434.78,352.51 L435.35,352.76 L435.92,353.00 L436.49,353.23 L437.05,353.45 L437.62,353.65 L438.19,353.85 L438.76,354.03 L439.33,354.21 L439.90,354.38 L440.47,354.55 L441.04,354.72 L441.61,354.88 L442.18,355.04 L442.75,355.19 L443.32,355.35 L443.89,355.51 L444.46,355.67 L445.03,355.83 L445.59,356.00 L446.16,356.16 L446.73,356.32 L447.30,356.47 L447.87,356.63 L448.44,356.78 L449.01,356.93 L449.58,357.08 L450.15,357.22 L450.72,357.37 L451.29,357.52 L451.86,357.67 L452.43,357.82 L453.00,357.97 L453.57,358.12 L454.13,358.28 L454.70,358.44 L455.27,358.60 L455.84,358.78 L456.41,358.98 L456.98,359.20 L457.55,359.43 L458.12,359.66 L458.69,359.87 L459.26,360.06 L459.83,360.23 L460.40,360.35 L460.97,360.42 L461.54,360.18 L462.11,355.03 L462.67,346.82 L463.24,340.18 L463.81,336.01 L464.38,332.61 L464.95,330.59 L465.52,329.18 L466.09,328.04 L466.66,327.26 L467.23,326.98 L467.80,327.02 L468.37,327.14 L468.94,327.32 L469.51,327.53 L470.08,327.76 L470.65,327.99 L471.21,328.20 L471.78,328.41 L472.35,328.62 L472.92,328.84 L473.49,329.06 L474.06,329.29 L474.63,329.52 L475.20,329.74" fill="none" stroke="#e0242e" stroke-width="1.7" stroke-linejoin="round" stroke-linecap="round"/>
<path d="M389.80,379.60 L390.37,379.62 L390.94,379.64 L391.51,379.66 L392.08,379.69 L392.65,379.71 L393.22,379.74 L393.79,379.76 L394.35,379.79 L394.92,379.81 L395.49,379.84 L396.06,379.86 L396.63,379.88 L397.20,379.91 L397.77,379.93 L398.34,379.94 L398.91,379.96 L399.48,379.97 L400.05,379.98 L400.62,379.99 L401.19,379.99 L401.76,379.98 L402.33,379.65 L402.89,379.01 L403.46,378.18 L404.03,377.32 L404.60,376.36 L405.17,375.16 L405.74,373.81 L406.31,372.39 L406.88,370.97 L407.45,369.65 L408.02,368.48 L408.59,367.41 L409.16,366.40 L409.73,365.35 L410.30,364.20 L410.87,362.89 L411.43,361.33 L412.00,359.28 L412.57,355.90 L413.14,351.71 L413.71,347.50 L414.28,344.01 L414.85,341.94 L415.42,340.46 L415.99,339.14 L416.56,338.08 L417.13,337.37 L417.70,337.11 L418.27,337.30 L418.84,337.79 L419.41,338.49 L419.97,339.29 L420.54,340.09 L421.11,340.79 L421.68,341.42 L422.25,342.07 L422.82,342.72 L423.39,343.37 L423.96,344.00 L424.53,344.60 L425.10,345.14 L425.67,345.64 L426.24,346.12 L426.81,346.60 L427.38,347.07 L427.95,347.52 L428.51,347.97 L429.08,348.41 L429.65,348.83 L430.22,349.24 L430.79,349.64 L431.36,350.02 L431.93,350.38 L432.50,350.73 L433.07,351.06 L433.64,351.36 L434.21,351.65 L434.78,351.91 L435.35,352.15 L435.92,352.37 L436.49,352.58 L437.05,352.77 L437.62,352.96 L438.19,353.13 L438.76,353.30 L439.33,353.46 L439.90,353.61 L440.47,353.76 L441.04,353.90 L441.61,354.04 L442.18,354.18 L442.75,354.32 L443.32,354.46 L443.89,354.61 L444.46,354.76 L445.03,354.91 L445.59,355.07 L446.16,355.22 L446.73,355.37 L447.30,355.52 L447.87,355.67 L448.44,355.82 L449.01,355.96 L449.58,356.11 L450.15,356.26 L450.72,356.40 L451.29,356.55 L451.86,356.70 L452.43,356.86 L453.00,357.01 L453.57,357.17 L454.13,357.34 L454.70,357.50 L455.27,357.68 L455.84,357.87 L456.41,358.11 L456.98,358.36 L457.55,358.63 L458.12,358.89 L458.69,359.14 L459.26,359.37 L459.83,359.57 L460.40,359.72 L460.97,359.80 L461.54,359.57 L462.11,354.61 L462.67,346.66 L463.24,340.18 L463.81,336.03 L464.38,332.62 L464.95,330.59 L465.52,329.18 L466.09,328.04 L466.66,327.26 L467.23,326.98 L467.80,327.02 L468.37,327.14 L468.94,327.32 L469.51,327.53 L470.08,327.76 L470.65,327.99 L471.21,328.20 L471.78,328.41 L472.35,328.62 L472.92,328.84 L473.49,329.06 L474.06,329.29 L474.63,329.52 L475.20,329.74" fill="none" stroke="#1f1fd0" stroke-width="1.7" stroke-linejoin="round" stroke-linecap="round"/>
<rect x="389.80" y="323.60" width="85.40" height="61.40" fill="none" stroke="#707070" stroke-width="1.0" />
<line x1="386.60" y1="385.00" x2="389.80" y2="385.00" stroke="#555" stroke-width="0.8"/>
<line x1="386.60" y1="354.30" x2="389.80" y2="354.30" stroke="#555" stroke-width="0.8"/>
<line x1="386.60" y1="323.60" x2="389.80" y2="323.60" stroke="#555" stroke-width="0.8"/>
<line x1="386.60" y1="369.65" x2="389.80" y2="369.65" stroke="#555" stroke-width="0.8"/>
<line x1="386.60" y1="338.95" x2="389.80" y2="338.95" stroke="#555" stroke-width="0.8"/>
<line x1="389.80" y1="385.00" x2="389.80" y2="388.00" stroke="#555" stroke-width="0.8"/>
<line x1="404.03" y1="385.00" x2="404.03" y2="388.00" stroke="#555" stroke-width="0.8"/>
<line x1="418.27" y1="385.00" x2="418.27" y2="388.00" stroke="#555" stroke-width="0.8"/>
<line x1="432.50" y1="385.00" x2="432.50" y2="388.00" stroke="#555" stroke-width="0.8"/>
<line x1="446.73" y1="385.00" x2="446.73" y2="388.00" stroke="#555" stroke-width="0.8"/>
<line x1="460.97" y1="385.00" x2="460.97" y2="388.00" stroke="#555" stroke-width="0.8"/>
<line x1="475.20" y1="385.00" x2="475.20" y2="388.00" stroke="#555" stroke-width="0.8"/>
<text transform="translate(389.80,396.60) scale(0.93,1)" font-size="8.6" text-anchor="middle" fill="#1e1e1e" >0</text>
<text transform="translate(418.27,396.60) scale(0.93,1)" font-size="8.6" text-anchor="middle" fill="#1e1e1e" >10</text>
<text transform="translate(446.73,396.60) scale(0.93,1)" font-size="8.6" text-anchor="middle" fill="#1e1e1e" >20</text>
<text transform="translate(475.20,396.60) scale(0.93,1)" font-size="8.6" text-anchor="middle" fill="#1e1e1e" >30</text>
<text transform="translate(403.00,409.60) scale(0.93,1)" font-size="8.6" fill="#1e1e1e" >Time ( X10 sec.)</text>
<text transform="translate(301.80,355.00) scale(0.93,1)" font-size="8.6" fill="#1e1e1e" >Ab</text>
<line x1="306.80" y1="361.00" x2="306.80" y2="365.50" stroke="#aaa" stroke-width="0.5"/>
<path d="M303.60,365.50 L310.00,365.50 L306.80,374.40 Z" fill="#111"/>
<text transform="translate(351.00,343.80) scale(0.93,1)" font-size="8.6" fill="#1e1e1e" >Iono</text>
<line x1="358.80" y1="350.50" x2="358.80" y2="355.00" stroke="#aaa" stroke-width="0.5"/>
<path d="M355.60,355.00 L362.00,355.00 L358.80,364.10 Z" fill="#111"/>
<text transform="translate(396.00,354.40) scale(0.93,1)" font-size="8.6" fill="#1e1e1e" >Ab</text>
<line x1="401.00" y1="360.70" x2="401.00" y2="365.20" stroke="#aaa" stroke-width="0.5"/>
<path d="M397.80,365.20 L404.20,365.20 L401.00,374.10 Z" fill="#111"/>
<text transform="translate(445.50,335.60) scale(0.93,1)" font-size="8.6" fill="#1e1e1e" >Iono</text>
<line x1="453.10" y1="341.80" x2="453.10" y2="346.30" stroke="#aaa" stroke-width="0.5"/>
<path d="M449.90,346.30 L456.30,346.30 L453.10,355.20 Z" fill="#111"/>
<text transform="translate(4.0,442.8) scale(1.09,1)" font-size="17.5" font-weight="bold" fill="#000" style="stroke:none">D</text>
<text transform="translate(16.00,453.20) scale(0.93,1)" font-size="8.6" fill="#1e1e1e" >CD4<tspan font-size="4.6" dy="-2.7">+</tspan><tspan font-size="8.6" dy="2.7">CD25</tspan><tspan font-size="4.6" dy="-2.7">+</tspan><tspan font-size="8.6" dy="2.7"> LN T cells</tspan></text>
<line x1="3.80" y1="457.60" x2="107.50" y2="457.60" stroke="#333" stroke-width="0.8"/>
<text transform="translate(13.20,476.40) scale(0.93,1)" font-size="8.6" text-anchor="middle" fill="#1e1e1e" >Group</text>
<text transform="translate(48.80,471.40) scale(0.93,1)" font-size="8.6" text-anchor="middle" fill="#1e1e1e" >Genetic</text>
<text transform="translate(48.80,480.80) scale(0.93,1)" font-size="8.6" text-anchor="middle" fill="#1e1e1e" >origin</text>
<text transform="translate(89.80,471.40) scale(0.93,1)" font-size="8.6" text-anchor="middle" fill="#1e1e1e" >CTLA-4</text>
<text transform="translate(90.00,480.80) scale(0.93,1)" font-size="8.6" text-anchor="middle" fill="#1e1e1e" >expression</text>
<line x1="3.00" y1="484.60" x2="23.80" y2="484.60" stroke="#333" stroke-width="0.8"/>
<line x1="28.00" y1="484.60" x2="69.50" y2="484.60" stroke="#333" stroke-width="0.8"/>
<line x1="72.50" y1="484.60" x2="107.50" y2="484.60" stroke="#333" stroke-width="0.8"/>
<text transform="translate(13.30,499.00) scale(0.93,1)" font-size="8.6" text-anchor="middle" fill="#1e1e1e" >1.</text>
<text transform="translate(13.30,525.90) scale(0.93,1)" font-size="8.6" text-anchor="middle" fill="#1e1e1e" >2.</text>
<text transform="translate(13.30,552.10) scale(0.93,1)" font-size="8.6" text-anchor="middle" fill="#1e1e1e" >3.</text>
<text transform="translate(13.30,578.60) scale(0.93,1)" font-size="8.6" text-anchor="middle" fill="#1e1e1e" >4.</text>
<text transform="translate(48.20,499.00) scale(0.93,1)" font-size="8.6" text-anchor="middle" fill="#1e1e1e" >B6</text>
<text transform="translate(36.40,525.90) scale(0.93,1)" font-size="8.6" fill="#1e1e1e" ><tspan font-style="italic">Ctla4</tspan><tspan font-size="4.6" dy="-2.7">-/-</tspan></text>
<text transform="translate(26.30,552.10) scale(0.93,1)" font-size="8.6" fill="#1e1e1e" >CTLA-4<tspan font-size="6.2" dy="-4.0">TgWT</tspan></text>
<text transform="translate(29.30,578.60) scale(0.93,1)" font-size="8.6" fill="#1e1e1e" >CTLA-4<tspan font-size="6.2" dy="-4.0">Tg&#916;</tspan></text>
<text transform="translate(88.80,499.00) scale(0.93,1)" font-size="8.6" text-anchor="middle" fill="#1e1e1e" >+</text>
<text transform="translate(88.90,525.50) scale(0.93,1)" font-size="8.6" text-anchor="middle" fill="#1e1e1e" >-</text>
<text transform="translate(89.40,552.10) scale(0.93,1)" font-size="8.6" text-anchor="middle" fill="#1e1e1e" >+</text>
<text x="89.40" y="578.90" font-size="9.5" text-anchor="middle" fill="#1e1e1e" font-family="Liberation Serif">&#916;</text>
<rect x="115.30" y="484.50" width="93.40" height="103.80" fill="none" stroke="#333" stroke-width="0.9" />
<text transform="translate(115.30,481.20) scale(0.93,1)" font-size="8.6" text-anchor="middle" fill="#1e1e1e" >0</text>
<line x1="130.87" y1="484.50" x2="130.87" y2="486.90" stroke="#333" stroke-width="0.7"/>
<text transform="translate(130.87,481.20) scale(0.93,1)" font-size="8.6" text-anchor="middle" fill="#1e1e1e" >5</text>
<line x1="146.43" y1="484.50" x2="146.43" y2="486.90" stroke="#333" stroke-width="0.7"/>
<text transform="translate(146.43,481.20) scale(0.93,1)" font-size="8.6" text-anchor="middle" fill="#1e1e1e" >10</text>
<line x1="162.00" y1="484.50" x2="162.00" y2="486.90" stroke="#333" stroke-width="0.7"/>
<text transform="translate(162.00,481.20) scale(0.93,1)" font-size="8.6" text-anchor="middle" fill="#1e1e1e" >15</text>
<line x1="177.57" y1="484.50" x2="177.57" y2="486.90" stroke="#333" stroke-width="0.7"/>
<text transform="translate(177.57,481.20) scale(0.93,1)" font-size="8.6" text-anchor="middle" fill="#1e1e1e" >20</text>
<line x1="193.13" y1="484.50" x2="193.13" y2="486.90" stroke="#333" stroke-width="0.7"/>
<text transform="translate(193.13,481.20) scale(0.93,1)" font-size="8.6" text-anchor="middle" fill="#1e1e1e" >25</text>
<text transform="translate(208.70,481.20) scale(0.93,1)" font-size="8.6" text-anchor="middle" fill="#1e1e1e" >30</text>
<text transform="translate(119.30,468.00) scale(0.93,1)" font-size="8.6" fill="#1e1e1e" >[<tspan font-size="5" dy="-3">3</tspan><tspan font-size="8.6" dy="3">H] TdR uptake ( X 10</tspan><tspan font-size="5" dy="-3">3</tspan><tspan font-size="8.6" dy="3">)</tspan></text>
<rect x="115.30" y="488.30" width="11.90" height="17.00" fill="#4a4a4a" stroke="#222" stroke-width="0.8" />
<line x1="127.20" y1="496.80" x2="128.80" y2="496.80" stroke="#222" stroke-width="0.8"/>
<line x1="128.80" y1="495.60" x2="128.80" y2="498.00" stroke="#222" stroke-width="0.7"/>
<rect x="115.30" y="514.30" width="77.00" height="17.20" fill="#4a4a4a" stroke="#222" stroke-width="0.8" />
<line x1="192.30" y1="522.90" x2="202.50" y2="522.90" stroke="#222" stroke-width="0.8"/>
<line x1="202.50" y1="521.70" x2="202.50" y2="524.10" stroke="#222" stroke-width="0.7"/>
<rect x="115.30" y="540.30" width="1.30" height="17.70" fill="#4a4a4a" stroke="#222" stroke-width="0.8" />
<rect x="115.30" y="566.30" width="3.30" height="18.30" fill="#4a4a4a" stroke="#222" stroke-width="0.8" />
<line x1="115.30" y1="509.60" x2="117.90" y2="509.60" stroke="#555" stroke-width="0.6"/>
<line x1="115.30" y1="536.20" x2="117.90" y2="536.20" stroke="#555" stroke-width="0.6"/>
<line x1="115.30" y1="562.60" x2="117.90" y2="562.60" stroke="#555" stroke-width="0.6"/>
<text transform="translate(139.60,599.60) scale(0.93,1)" font-size="8.6" fill="#1e1e1e" >Stimulation:</text>
<rect x="121.20" y="607.20" width="7.00" height="7.00" fill="#4a4a4a" stroke="#222" stroke-width="0.7" />
<text transform="translate(131.60,613.60) scale(0.93,1)" font-size="8.6" fill="#1e1e1e" >Anti-TCR + APC</text>
<rect x="218.60" y="484.50" width="94.00" height="103.70" fill="none" stroke="#333" stroke-width="0.9" />
<text transform="translate(218.60,481.20) scale(0.93,1)" font-size="8.6" text-anchor="middle" fill="#1e1e1e" >0</text>
<line x1="234.27" y1="484.50" x2="234.27" y2="486.90" stroke="#333" stroke-width="0.7"/>
<text transform="translate(234.27,481.20) scale(0.93,1)" font-size="8.6" text-anchor="middle" fill="#1e1e1e" >20</text>
<line x1="249.93" y1="484.50" x2="249.93" y2="486.90" stroke="#333" stroke-width="0.7"/>
<text transform="translate(249.93,481.20) scale(0.93,1)" font-size="8.6" text-anchor="middle" fill="#1e1e1e" >40</text>
<line x1="265.60" y1="484.50" x2="265.60" y2="486.90" stroke="#333" stroke-width="0.7"/>
<text transform="translate(265.60,481.20) scale(0.93,1)" font-size="8.6" text-anchor="middle" fill="#1e1e1e" >60</text>
<line x1="281.27" y1="484.50" x2="281.27" y2="486.90" stroke="#333" stroke-width="0.7"/>
<text transform="translate(281.27,481.20) scale(0.93,1)" font-size="8.6" text-anchor="middle" fill="#1e1e1e" >80</text>
<line x1="296.93" y1="484.50" x2="296.93" y2="486.90" stroke="#333" stroke-width="0.7"/>
<text transform="translate(296.93,481.20) scale(0.93,1)" font-size="8.6" text-anchor="middle" fill="#1e1e1e" >100</text>
<text transform="translate(312.60,481.20) scale(0.93,1)" font-size="8.6" text-anchor="middle" fill="#1e1e1e" >120</text>
<text transform="translate(221.60,468.00) scale(0.93,1)" font-size="8.6" fill="#1e1e1e" >[<tspan font-size="5" dy="-3">3</tspan><tspan font-size="8.6" dy="3">H] TdR uptake ( X 10</tspan><tspan font-size="5" dy="-3">3</tspan><tspan font-size="8.6" dy="3">)</tspan></text>
<rect x="218.60" y="488.30" width="60.60" height="17.10" fill="#4a4a4a" stroke="#222" stroke-width="0.8" />
<line x1="279.20" y1="496.85" x2="282.20" y2="496.85" stroke="#222" stroke-width="0.8"/>
<line x1="282.20" y1="495.65" x2="282.20" y2="498.05" stroke="#222" stroke-width="0.7"/>
<rect x="218.60" y="514.30" width="83.20" height="17.00" fill="#4a4a4a" stroke="#222" stroke-width="0.8" />
<line x1="301.80" y1="522.80" x2="305.00" y2="522.80" stroke="#222" stroke-width="0.8"/>
<line x1="305.00" y1="521.60" x2="305.00" y2="524.00" stroke="#222" stroke-width="0.7"/>
<rect x="218.60" y="540.50" width="45.10" height="17.50" fill="#4a4a4a" stroke="#222" stroke-width="0.8" />
<line x1="263.70" y1="549.25" x2="271.20" y2="549.25" stroke="#222" stroke-width="0.8"/>
<line x1="271.20" y1="548.05" x2="271.20" y2="550.45" stroke="#222" stroke-width="0.7"/>
<rect x="218.60" y="566.30" width="69.40" height="17.90" fill="#4a4a4a" stroke="#222" stroke-width="0.8" />
<line x1="288.00" y1="575.25" x2="294.50" y2="575.25" stroke="#222" stroke-width="0.8"/>
<line x1="294.50" y1="574.05" x2="294.50" y2="576.45" stroke="#222" stroke-width="0.7"/>
<rect x="218.60" y="492.20" width="6.40" height="10.40" fill="#fff" stroke="#222" stroke-width="0.8" />
<rect x="218.60" y="518.00" width="6.40" height="10.50" fill="#fff" stroke="#222" stroke-width="0.8" />
<rect x="218.60" y="543.80" width="5.20" height="11.20" fill="#fff" stroke="#222" stroke-width="0.8" />
<rect x="218.60" y="570.00" width="7.70" height="10.50" fill="#fff" stroke="#222" stroke-width="0.8" />
<line x1="218.60" y1="509.60" x2="221.20" y2="509.60" stroke="#555" stroke-width="0.6"/>
<line x1="218.60" y1="536.20" x2="221.20" y2="536.20" stroke="#555" stroke-width="0.6"/>
<line x1="218.60" y1="562.60" x2="221.20" y2="562.60" stroke="#555" stroke-width="0.6"/>
<line x1="306.60" y1="496.50" x2="306.60" y2="523.80" stroke="#444" stroke-width="0.7"/>
<line x1="296.30" y1="544.50" x2="296.30" y2="573.80" stroke="#444" stroke-width="0.7"/>
<text x="306.2" y="517.3" font-size="16" font-weight="bold" fill="#222" style="stroke:none">*</text>
<text x="297.0" y="568.3" font-size="16" font-weight="bold" fill="#222" style="stroke:none">*</text>
<text transform="translate(242.00,599.60) scale(0.93,1)" font-size="8.6" fill="#1e1e1e" >Stimulation:</text>
<rect x="220.50" y="607.40" width="6.60" height="6.60" fill="#4a4a4a" stroke="#222" stroke-width="0.7" />
<text transform="translate(231.20,613.80) scale(0.93,1)" font-size="8.6" fill="#1e1e1e" >Anti-TCR + APC + IL-2</text>
<rect x="220.50" y="621.40" width="6.60" height="6.60" fill="#fff" stroke="#222" stroke-width="0.7" />
<text transform="translate(230.00,628.00) scale(0.93,1)" font-size="8.6" fill="#1e1e1e" >APC + IL-2</text>
<polygon points="224.00,636.10 224.81,638.28 227.14,638.38 225.32,639.83 225.94,642.07 224.00,640.79 222.06,642.07 222.68,639.83 220.86,638.38 223.19,638.28" fill="#111"/>
<text transform="translate(229.40,642.60) scale(0.93,1)" font-size="8.6" fill="#1e1e1e" ><tspan font-style="italic">p</tspan>&lt;0.002</text>
<text transform="translate(335.2,442.8) scale(1.09,1)" font-size="17.5" font-weight="bold" fill="#000" style="stroke:none">E</text>
<text transform="translate(350.00,471.60) scale(0.93,1)" font-size="8.6" text-anchor="middle" fill="#1e1e1e" >Responder</text>
<text transform="translate(350.20,480.60) scale(0.93,1)" font-size="8.6" text-anchor="middle" fill="#1e1e1e" >T cells</text>
<line x1="329.20" y1="484.60" x2="370.80" y2="484.60" stroke="#333" stroke-width="0.8"/>
<text transform="translate(400.20,471.50) scale(0.93,1)" font-size="8.6" text-anchor="middle" fill="#1e1e1e" >Added</text>
<text transform="translate(399.90,480.70) scale(0.93,1)" font-size="8.6" text-anchor="middle" fill="#1e1e1e" >reagent</text>
<line x1="383.50" y1="484.60" x2="417.00" y2="484.60" stroke="#333" stroke-width="0.8"/>
<text transform="translate(350.20,507.30) scale(0.93,1)" font-size="8.6" text-anchor="middle" fill="#1e1e1e" >B6</text>
<text transform="translate(329.50,518.00) scale(0.93,1)" font-size="8.6" fill="#1e1e1e" >CD4<tspan font-size="5.5" dy="-3.6">+</tspan><tspan font-size="8.6" dy="3.6">CD25</tspan><tspan font-size="5.5" dy="-3.6">-</tspan></text>
<text transform="translate(399.40,504.40) scale(0.93,1)" font-size="8.6" text-anchor="middle" fill="#1e1e1e" >-</text>
<text transform="translate(382.20,519.80) scale(0.93,1)" font-size="8.6" fill="#1e1e1e" >CTLA-4Ig</text>
<text transform="translate(339.40,560.30) scale(0.93,1)" font-size="8.6" fill="#1e1e1e" ><tspan font-style="italic">Ctla4</tspan><tspan font-size="4.6" dy="-2.7">-/-</tspan></text>
<text transform="translate(328.40,571.90) scale(0.93,1)" font-size="8.6" fill="#1e1e1e" >CD4<tspan font-size="5.5" dy="-3.6">+</tspan><tspan font-size="8.6" dy="3.6">CD25</tspan><tspan font-size="5.5" dy="-3.6">+</tspan></text>
<text transform="translate(400.00,556.60) scale(0.93,1)" font-size="8.6" text-anchor="middle" fill="#1e1e1e" >-</text>
<text transform="translate(382.30,574.10) scale(0.93,1)" font-size="8.6" fill="#1e1e1e" >CTLA-4Ig</text>
<rect x="421.70" y="483.90" width="93.90" height="103.90" fill="none" stroke="#333" stroke-width="0.9" />
<text transform="translate(421.70,481.20) scale(0.93,1)" font-size="8.6" text-anchor="middle" fill="#1e1e1e" >0</text>
<line x1="435.11" y1="483.90" x2="435.11" y2="486.30" stroke="#333" stroke-width="0.7"/>
<text transform="translate(435.11,481.20) scale(0.93,1)" font-size="8.6" text-anchor="middle" fill="#1e1e1e" >10</text>
<line x1="448.53" y1="483.90" x2="448.53" y2="486.30" stroke="#333" stroke-width="0.7"/>
<text transform="translate(448.53,481.20) scale(0.93,1)" font-size="8.6" text-anchor="middle" fill="#1e1e1e" >20</text>
<line x1="461.94" y1="483.90" x2="461.94" y2="486.30" stroke="#333" stroke-width="0.7"/>
<text transform="translate(461.94,481.20) scale(0.93,1)" font-size="8.6" text-anchor="middle" fill="#1e1e1e" >30</text>
<line x1="475.36" y1="483.90" x2="475.36" y2="486.30" stroke="#333" stroke-width="0.7"/>
<text transform="translate(475.36,481.20) scale(0.93,1)" font-size="8.6" text-anchor="middle" fill="#1e1e1e" >40</text>
<line x1="488.77" y1="483.90" x2="488.77" y2="486.30" stroke="#333" stroke-width="0.7"/>
<text transform="translate(488.77,481.20) scale(0.93,1)" font-size="8.6" text-anchor="middle" fill="#1e1e1e" >50</text>
<line x1="502.19" y1="483.90" x2="502.19" y2="486.30" stroke="#333" stroke-width="0.7"/>
<text transform="translate(502.19,481.20) scale(0.93,1)" font-size="8.6" text-anchor="middle" fill="#1e1e1e" >60</text>
<text transform="translate(515.60,481.20) scale(0.93,1)" font-size="8.6" text-anchor="middle" fill="#1e1e1e" >70</text>
<text transform="translate(423.60,468.00) scale(0.93,1)" font-size="8.6" fill="#1e1e1e" >[<tspan font-size="5" dy="-3">3</tspan><tspan font-size="8.6" dy="3">H] TdR uptake ( X 10</tspan><tspan font-size="5" dy="-3">3</tspan><tspan font-size="8.6" dy="3">)</tspan></text>
<rect x="421.70" y="494.40" width="79.30" height="15.30" fill="#4a4a4a" stroke="#222" stroke-width="0.8" />
<line x1="501.00" y1="502.05" x2="503.60" y2="502.05" stroke="#222" stroke-width="0.8"/>
<line x1="503.60" y1="500.85" x2="503.60" y2="503.25" stroke="#222" stroke-width="0.7"/>
<rect x="421.70" y="510.30" width="19.00" height="14.80" fill="#fff" stroke="#222" stroke-width="0.8" />
<line x1="440.70" y1="517.70" x2="443.40" y2="517.70" stroke="#222" stroke-width="0.8"/>
<line x1="443.40" y1="516.50" x2="443.40" y2="518.90" stroke="#222" stroke-width="0.7"/>
<rect x="421.70" y="547.30" width="33.80" height="15.10" fill="#4a4a4a" stroke="#222" stroke-width="0.8" />
<line x1="455.50" y1="554.85" x2="458.20" y2="554.85" stroke="#222" stroke-width="0.8"/>
<line x1="458.20" y1="553.65" x2="458.20" y2="556.05" stroke="#222" stroke-width="0.7"/>
<rect x="421.70" y="562.80" width="6.90" height="14.80" fill="#fff" stroke="#222" stroke-width="0.8" />
<line x1="428.60" y1="570.20" x2="430.20" y2="570.20" stroke="#222" stroke-width="0.8"/>
<line x1="430.20" y1="569.00" x2="430.20" y2="571.40" stroke="#222" stroke-width="0.7"/>
<line x1="421.70" y1="536.20" x2="424.90" y2="536.20" stroke="#555" stroke-width="0.6"/>
<text transform="translate(448.40,599.80) scale(0.93,1)" font-size="8.6" fill="#1e1e1e" >Stimulation:</text>
<text transform="translate(443.70,613.20) scale(0.93,1)" font-size="8.6" fill="#1e1e1e" >Anti-TCR + APC</text>
</svg></body></html>
